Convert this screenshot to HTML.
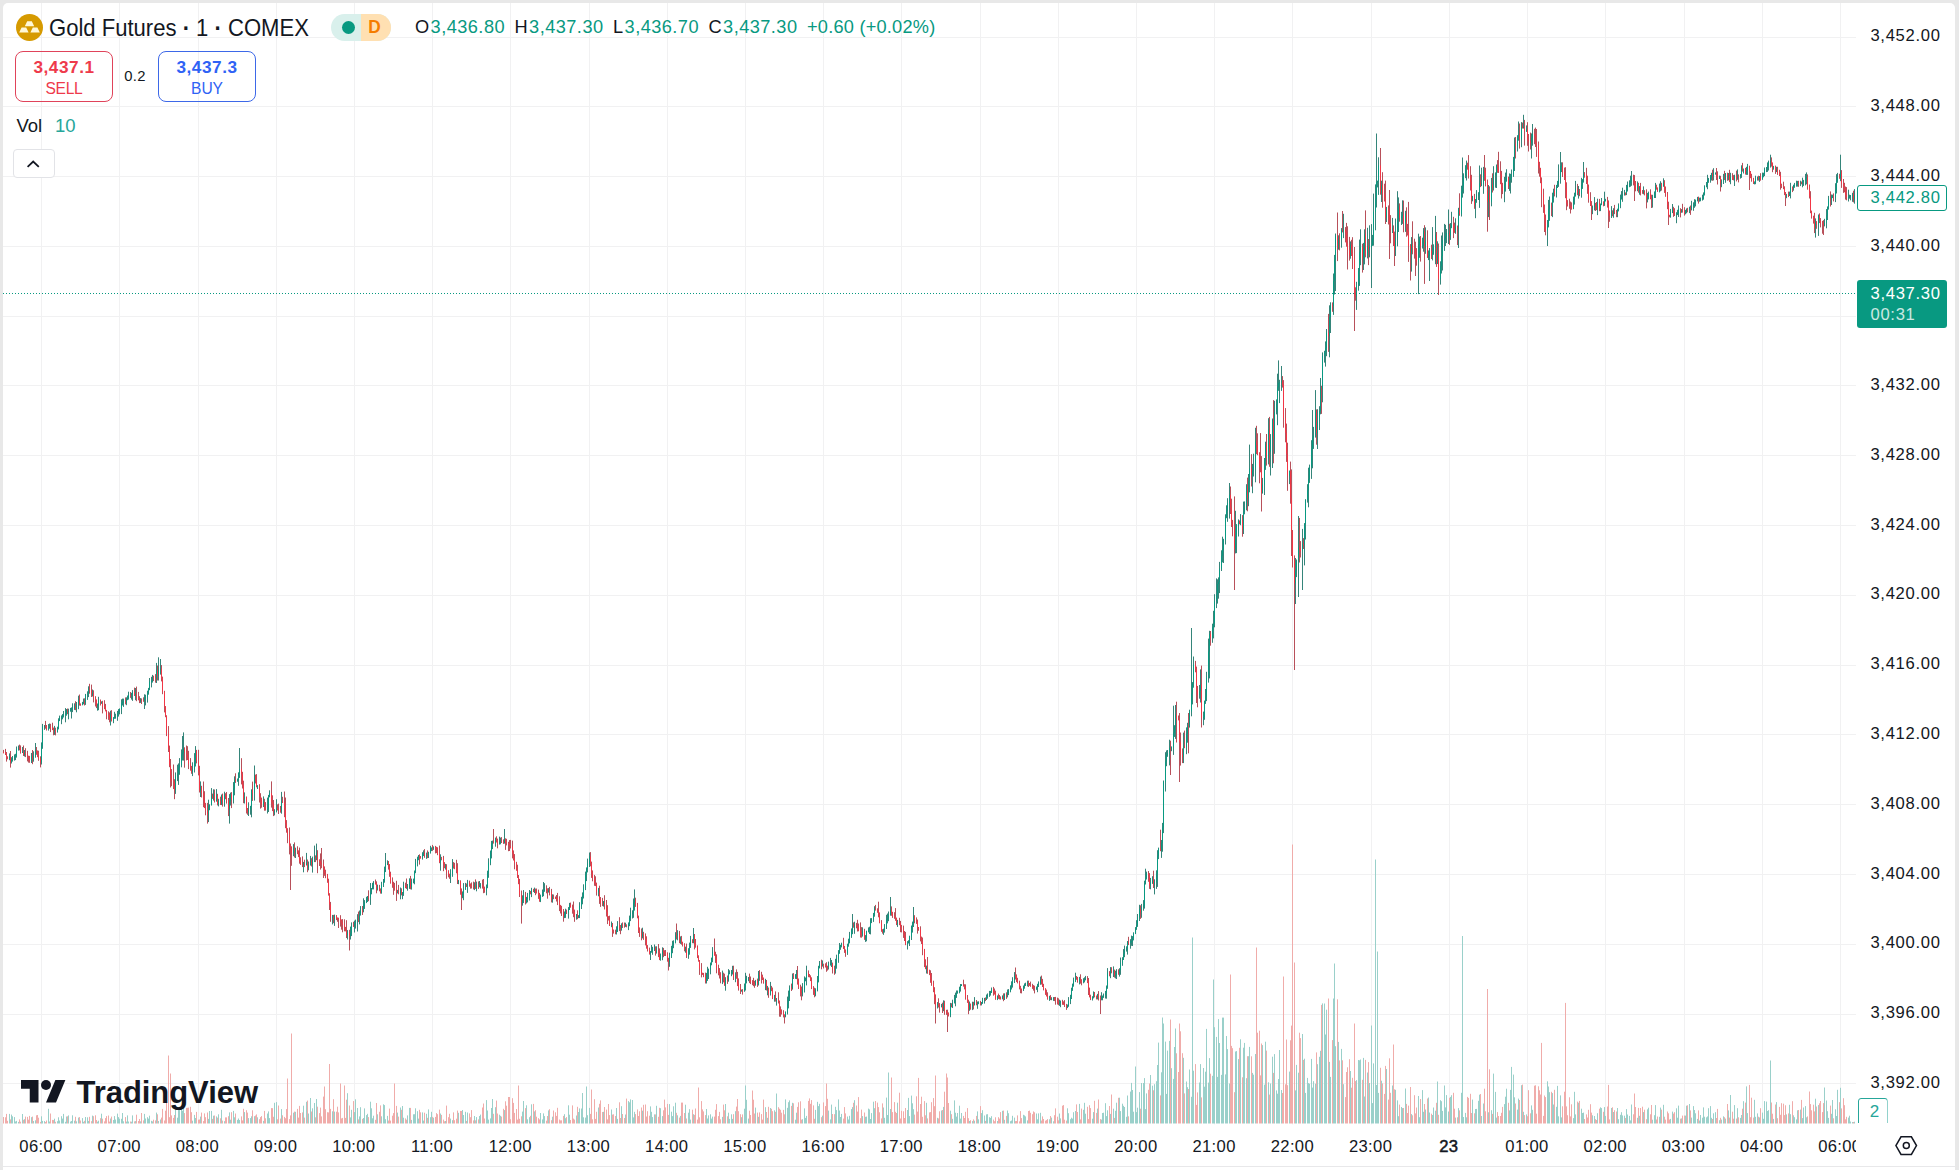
<!DOCTYPE html>
<html><head><meta charset="utf-8"><title>Gold Futures</title>
<style>
html,body{margin:0;padding:0;}
body{width:1959px;height:1170px;background:#e8e8e8;position:relative;overflow:hidden;font-family:"Liberation Sans",sans-serif;color:#131722;}
#panel{position:absolute;left:3px;top:3px;width:1952px;height:1163px;background:#fff;border-radius:5px 5px 0 0;}
#below{position:absolute;left:3px;top:1166px;width:1952px;height:4px;background:#fff;border-top:1px solid #e8e8ea;box-sizing:border-box;}
#chart{position:absolute;left:0;top:0;}
#tclip{position:absolute;left:0;top:1128px;width:1856px;height:36px;overflow:hidden;}
.pl{position:absolute;left:1857.5px;width:96px;text-align:center;font-size:16.6px;line-height:22px;letter-spacing:0.7px;white-space:nowrap;}
.tl{position:absolute;top:8.1px;width:80px;text-align:center;font-size:16.6px;line-height:22px;letter-spacing:0.35px;white-space:nowrap;}
.abs{position:absolute;white-space:nowrap;}
</style></head><body>
<div id="panel"></div>
<div id="below"></div>
<svg id="chart" width="1959" height="1170" viewBox="0 0 1959 1170">
<g stroke="#f1f1f2" stroke-width="1" fill="none"><path d="M3 37.5H1856"/><path d="M3 106.5H1856"/><path d="M3 176.5H1856"/><path d="M3 246.5H1856"/><path d="M3 316.5H1856"/><path d="M3 385.5H1856"/><path d="M3 455.5H1856"/><path d="M3 525.5H1856"/><path d="M3 595.5H1856"/><path d="M3 665.5H1856"/><path d="M3 734.5H1856"/><path d="M3 804.5H1856"/><path d="M3 874.5H1856"/><path d="M3 944.5H1856"/><path d="M3 1014.5H1856"/><path d="M3 1083.5H1856"/><path d="M41.5 3V1124.5"/><path d="M119.5 3V1124.5"/><path d="M198.5 3V1124.5"/><path d="M276.5 3V1124.5"/><path d="M354.5 3V1124.5"/><path d="M432.5 3V1124.5"/><path d="M510.5 3V1124.5"/><path d="M589.5 3V1124.5"/><path d="M667.5 3V1124.5"/><path d="M745.5 3V1124.5"/><path d="M823.5 3V1124.5"/><path d="M901.5 3V1124.5"/><path d="M980.5 3V1124.5"/><path d="M1058.5 3V1124.5"/><path d="M1136.5 3V1124.5"/><path d="M1214.5 3V1124.5"/><path d="M1292.5 3V1124.5"/><path d="M1371.5 3V1124.5"/><path d="M1449.5 3V1124.5"/><path d="M1527.5 3V1124.5"/><path d="M1605.5 3V1124.5"/><path d="M1684.5 3V1124.5"/><path d="M1762.5 3V1124.5"/><path d="M1840.5 3V1124.5"/></g>
<clipPath id="cp"><rect x="3" y="3" width="1853" height="1121.5"/></clipPath>
<g clip-path="url(#cp)">
<path d="M9.5 1113.9V1123.5M11.5 1114.6V1123.5M12.5 1116.3V1123.5M14.5 1117.1V1123.5M15.5 1121.5V1123.5M16.5 1120.9V1123.5M18.5 1121.9V1123.5M22.5 1114V1123.5M24.5 1119.2V1123.5M31.5 1117.2V1123.5M33.5 1121V1123.5M35.5 1120.3V1123.5M41.5 1116.3V1123.5M42.5 1120.9V1123.5M44.5 1121.1V1123.5M48.5 1108.8V1123.5M49.5 1121.5V1123.5M54.5 1118.7V1123.5M57.5 1121.2V1123.5M58.5 1117.3V1123.5M59.5 1120.5V1123.5M61.5 1116.2V1123.5M62.5 1118.6V1123.5M63.5 1113.9V1123.5M65.5 1121.8V1123.5M66.5 1116.5V1123.5M68.5 1115.4V1123.5M70.5 1121.6V1123.5M71.5 1121V1123.5M72.5 1115.3V1123.5M74.5 1120.7V1123.5M76.5 1121.3V1123.5M78.5 1117.6V1123.5M82.5 1118.1V1123.5M83.5 1121.8V1123.5M85.5 1117V1123.5M87.5 1117.3V1123.5M88.5 1120.9V1123.5M92.5 1115.6V1123.5M97.5 1121.7V1123.5M98.5 1120.7V1123.5M101.5 1113.7V1123.5M110.5 1118.5V1123.5M113.5 1120V1123.5M114.5 1116.1V1123.5M115.5 1119.5V1123.5M117.5 1113.6V1123.5M118.5 1117.1V1123.5M119.5 1118.7V1123.5M121.5 1118.8V1123.5M122.5 1113V1123.5M123.5 1121.3V1123.5M126.5 1121.6V1123.5M127.5 1115.4V1123.5M128.5 1121.5V1123.5M131.5 1121.7V1123.5M132.5 1115.4V1123.5M135.5 1121.1V1123.5M140.5 1121.3V1123.5M144.5 1113.9V1123.5M145.5 1118.5V1123.5M147.5 1117.2V1123.5M148.5 1118.6V1123.5M149.5 1115.7V1123.5M151.5 1120.8V1123.5M152.5 1121.4V1123.5M156.5 1112.6V1123.5M158.5 1121V1123.5M160.5 1119.5V1123.5M175.5 1105.2V1123.5M177.5 1117.7V1123.5M178.5 1107.3V1123.5M179.5 1109.1V1123.5M181.5 1107.3V1123.5M182.5 1110.7V1123.5M183.5 1107V1123.5M192.5 1120.7V1123.5M194.5 1114.9V1123.5M195.5 1118V1123.5M200.5 1116.6V1123.5M208.5 1118.9V1123.5M209.5 1111V1123.5M211.5 1110.9V1123.5M213.5 1115.7V1123.5M216.5 1116.4V1123.5M218.5 1114.3V1123.5M221.5 1109.8V1123.5M224.5 1121.2V1123.5M229.5 1112.4V1123.5M230.5 1119.7V1123.5M233.5 1110.9V1123.5M234.5 1117.3V1123.5M237.5 1119.9V1123.5M238.5 1118.5V1123.5M239.5 1120V1123.5M244.5 1112.1V1123.5M248.5 1118.1V1123.5M250.5 1118.1V1123.5M251.5 1116.3V1123.5M254.5 1116.2V1123.5M257.5 1117.3V1123.5M263.5 1120.9V1123.5M267.5 1113.5V1123.5M268.5 1111.4V1123.5M269.5 1118.1V1123.5M274.5 1102.8V1123.5M276.5 1102.1V1123.5M281.5 1109.1V1123.5M293.5 1112.7V1123.5M295.5 1111.8V1123.5M303.5 1105.7V1123.5M306.5 1101.8V1123.5M308.5 1113.5V1123.5M310.5 1098V1123.5M312.5 1108.3V1123.5M314.5 1103V1123.5M316.5 1099V1123.5M332.5 1111.3V1123.5M334.5 1111.6V1123.5M347.5 1093.2V1123.5M350.5 1117.4V1123.5M351.5 1109.8V1123.5M354.5 1112.1V1123.5M355.5 1099.3V1123.5M357.5 1108V1123.5M359.5 1116.4V1123.5M360.5 1107.2V1123.5M363.5 1118V1123.5M364.5 1108.4V1123.5M366.5 1115.1V1123.5M367.5 1113.8V1123.5M370.5 1101.7V1123.5M371.5 1108.3V1123.5M372.5 1118.3V1123.5M373.5 1115.7V1123.5M377.5 1114.3V1123.5M381.5 1116.3V1123.5M383.5 1104.3V1123.5M384.5 1105.1V1123.5M385.5 1119.2V1123.5M387.5 1115.9V1123.5M397.5 1112.6V1123.5M400.5 1107.5V1123.5M402.5 1106V1123.5M403.5 1117.7V1123.5M407.5 1115.4V1123.5M409.5 1107.9V1123.5M411.5 1119.9V1123.5M413.5 1114.3V1123.5M414.5 1114.2V1123.5M415.5 1108.3V1123.5M417.5 1111.2V1123.5M418.5 1118.6V1123.5M422.5 1112.4V1123.5M423.5 1120.6V1123.5M426.5 1113.8V1123.5M428.5 1109.4V1123.5M430.5 1117.2V1123.5M431.5 1111.8V1123.5M433.5 1117.7V1123.5M440.5 1113.5V1123.5M445.5 1121V1123.5M450.5 1118.6V1123.5M452.5 1120.2V1123.5M458.5 1112.8V1123.5M462.5 1110V1123.5M463.5 1115V1123.5M465.5 1111.8V1123.5M467.5 1112.5V1123.5M474.5 1116V1123.5M476.5 1117.1V1123.5M479.5 1116V1123.5M480.5 1114.6V1123.5M486.5 1100.1V1123.5M487.5 1110.5V1123.5M488.5 1119.6V1123.5M490.5 1118.4V1123.5M491.5 1108V1123.5M492.5 1099V1123.5M495.5 1107.2V1123.5M499.5 1114.7V1123.5M500.5 1115.8V1123.5M504.5 1110.1V1123.5M522.5 1111.6V1123.5M523.5 1101V1123.5M526.5 1105.3V1123.5M527.5 1119.3V1123.5M529.5 1117.2V1123.5M531.5 1104.3V1123.5M534.5 1111.4V1123.5M540.5 1113V1123.5M542.5 1119.4V1123.5M543.5 1113.4V1123.5M544.5 1116.1V1123.5M548.5 1110.4V1123.5M552.5 1116.7V1123.5M564.5 1114.2V1123.5M565.5 1118.2V1123.5M568.5 1105.3V1123.5M569.5 1114.7V1123.5M576.5 1115.5V1123.5M578.5 1112V1123.5M579.5 1108.4V1123.5M581.5 1108.5V1123.5M582.5 1093V1123.5M583.5 1117.3V1123.5M585.5 1117.6V1123.5M586.5 1086.5V1123.5M587.5 1115.2V1123.5M589.5 1107.9V1123.5M598.5 1107.5V1123.5M603.5 1111.8V1123.5M611.5 1109.5V1123.5M616.5 1108V1123.5M617.5 1118.9V1123.5M621.5 1106.2V1123.5M625.5 1114.5V1123.5M628.5 1101.1V1123.5M629.5 1102.3V1123.5M630.5 1099.4V1123.5M632.5 1100V1123.5M633.5 1117.4V1123.5M634.5 1111.8V1123.5M642.5 1110.7V1123.5M650.5 1106.4V1123.5M651.5 1111.8V1123.5M652.5 1117.1V1123.5M654.5 1114.4V1123.5M656.5 1105.8V1123.5M660.5 1108.2V1123.5M662.5 1116.1V1123.5M669.5 1104.1V1123.5M671.5 1111.7V1123.5M672.5 1116.1V1123.5M673.5 1106.3V1123.5M675.5 1102.7V1123.5M677.5 1115.3V1123.5M680.5 1115.9V1123.5M685.5 1104.7V1123.5M688.5 1112.7V1123.5M689.5 1109.2V1123.5M690.5 1119.6V1123.5M693.5 1114.2V1123.5M706.5 1109V1123.5M707.5 1118.5V1123.5M708.5 1115.4V1123.5M710.5 1114.3V1123.5M711.5 1118.6V1123.5M712.5 1116.6V1123.5M722.5 1116.9V1123.5M725.5 1104V1123.5M728.5 1112.7V1123.5M729.5 1118.9V1123.5M731.5 1114.3V1123.5M732.5 1118.9V1123.5M735.5 1111.2V1123.5M741.5 1117.2V1123.5M744.5 1108.7V1123.5M745.5 1085.5V1123.5M746.5 1099.8V1123.5M748.5 1118.6V1123.5M755.5 1107.6V1123.5M758.5 1116.8V1123.5M765.5 1107.2V1123.5M767.5 1117.8V1123.5M770.5 1108V1123.5M774.5 1110.3V1123.5M776.5 1093.5V1123.5M785.5 1099.4V1123.5M787.5 1107.8V1123.5M788.5 1102.2V1123.5M789.5 1100.4V1123.5M792.5 1102.8V1123.5M795.5 1119.7V1123.5M796.5 1112.7V1123.5M802.5 1119.2V1123.5M804.5 1108.4V1123.5M805.5 1117.9V1123.5M806.5 1115.9V1123.5M815.5 1109.9V1123.5M817.5 1101.8V1123.5M818.5 1106.1V1123.5M819.5 1103.8V1123.5M822.5 1115.6V1123.5M828.5 1110.6V1123.5M830.5 1119.4V1123.5M831.5 1104.6V1123.5M835.5 1106.8V1123.5M836.5 1110.1V1123.5M838.5 1099.4V1123.5M839.5 1110.5V1123.5M840.5 1117V1123.5M841.5 1113.9V1123.5M847.5 1116.5V1123.5M848.5 1119.5V1123.5M849.5 1115.8V1123.5M851.5 1109.1V1123.5M852.5 1107.1V1123.5M854.5 1100.2V1123.5M862.5 1116.1V1123.5M865.5 1116.8V1123.5M866.5 1116.6V1123.5M868.5 1108.6V1123.5M869.5 1109.4V1123.5M870.5 1119V1123.5M871.5 1113.1V1123.5M873.5 1101.7V1123.5M874.5 1108.2V1123.5M883.5 1107.5V1123.5M884.5 1117.8V1123.5M886.5 1097.6V1123.5M887.5 1115V1123.5M888.5 1072.5V1123.5M890.5 1109V1123.5M897.5 1102.7V1123.5M907.5 1110V1123.5M908.5 1097.9V1123.5M909.5 1116.1V1123.5M911.5 1095.6V1123.5M912.5 1103.3V1123.5M913.5 1109.2V1123.5M926.5 1102.8V1123.5M937.5 1117.8V1123.5M941.5 1110.5V1123.5M943.5 1106.9V1123.5M950.5 1110.7V1123.5M952.5 1118.8V1123.5M954.5 1100.4V1123.5M955.5 1112.7V1123.5M956.5 1116.6V1123.5M957.5 1113V1123.5M959.5 1105.7V1123.5M960.5 1118.6V1123.5M961.5 1113V1123.5M969.5 1121V1123.5M972.5 1121.1V1123.5M974.5 1120.7V1123.5M977.5 1111.4V1123.5M978.5 1119.3V1123.5M981.5 1113.1V1123.5M982.5 1110.2V1123.5M984.5 1115.5V1123.5M986.5 1114.4V1123.5M987.5 1114.2V1123.5M989.5 1117.2V1123.5M990.5 1117.9V1123.5M991.5 1116.2V1123.5M997.5 1121V1123.5M1002.5 1110.8V1123.5M1004.5 1119.8V1123.5M1007.5 1110.5V1123.5M1008.5 1113.2V1123.5M1010.5 1121.2V1123.5M1011.5 1120.5V1123.5M1012.5 1115.8V1123.5M1014.5 1117.6V1123.5M1023.5 1114.8V1123.5M1024.5 1115.4V1123.5M1025.5 1116.4V1123.5M1027.5 1120.4V1123.5M1036.5 1113.5V1123.5M1037.5 1119.3V1123.5M1038.5 1113.4V1123.5M1040.5 1112.8V1123.5M1049.5 1119.3V1123.5M1051.5 1117.6V1123.5M1053.5 1121.3V1123.5M1059.5 1113.5V1123.5M1060.5 1118.4V1123.5M1067.5 1108.3V1123.5M1068.5 1113.2V1123.5M1070.5 1119.2V1123.5M1071.5 1117.7V1123.5M1072.5 1118.6V1123.5M1073.5 1112.2V1123.5M1075.5 1111V1123.5M1079.5 1103.9V1123.5M1083.5 1109.8V1123.5M1084.5 1102.8V1123.5M1085.5 1113.7V1123.5M1092.5 1118.7V1123.5M1093.5 1112.1V1123.5M1097.5 1108.6V1123.5M1101.5 1119.6V1123.5M1102.5 1113V1123.5M1103.5 1112.7V1123.5M1105.5 1103.2V1123.5M1106.5 1116.1V1123.5M1107.5 1110.3V1123.5M1110.5 1113.9V1123.5M1113.5 1108.7V1123.5M1115.5 1110.8V1123.5M1116.5 1102.7V1123.5M1119.5 1097.7V1123.5M1120.5 1111.1V1123.5M1122.5 1103.7V1123.5M1123.5 1105.8V1123.5M1124.5 1107V1123.5M1126.5 1116.8V1123.5M1127.5 1095.5V1123.5M1130.5 1091.6V1123.5M1131.5 1082.9V1123.5M1132.5 1090V1123.5M1133.5 1111.7V1123.5M1135.5 1066.5V1123.5M1136.5 1112.1V1123.5M1137.5 1107.7V1123.5M1139.5 1092.1V1123.5M1141.5 1083V1123.5M1143.5 1083V1123.5M1144.5 1078.1V1123.5M1145.5 1109.1V1123.5M1146.5 1093.4V1123.5M1150.5 1075V1123.5M1152.5 1085.7V1123.5M1154.5 1084.2V1123.5M1156.5 1081.2V1123.5M1157.5 1065V1123.5M1158.5 1042.6V1123.5M1161.5 1072.3V1123.5M1162.5 1017.5V1123.5M1163.5 1023.5V1123.5M1165.5 1041.6V1123.5M1166.5 1093.9V1123.5M1167.5 1050.6V1123.5M1169.5 1040.9V1123.5M1171.5 1068.2V1123.5M1173.5 1078.9V1123.5M1174.5 1047V1123.5M1175.5 1028.5V1123.5M1183.5 1057.8V1123.5M1186.5 1081.5V1123.5M1187.5 1087.2V1123.5M1189.5 1069.5V1123.5M1191.5 1096.8V1123.5M1192.5 937.5V1123.5M1193.5 1070.7V1123.5M1199.5 1082.5V1123.5M1200.5 1064.1V1123.5M1203.5 1068V1123.5M1204.5 1086.7V1123.5M1205.5 1071.7V1123.5M1206.5 1028.9V1123.5M1208.5 1082.6V1123.5M1209.5 1058.1V1123.5M1212.5 1075.8V1123.5M1213.5 979.5V1123.5M1214.5 1027.2V1123.5M1216.5 1036.9V1123.5M1217.5 1076.9V1123.5M1218.5 1019.1V1123.5M1219.5 1043V1123.5M1221.5 1074.9V1123.5M1222.5 1017.6V1123.5M1223.5 1017.6V1123.5M1225.5 1074.4V1123.5M1226.5 1036V1123.5M1227.5 1049.1V1123.5M1229.5 1083.5V1123.5M1235.5 1051.5V1123.5M1236.5 1051.1V1123.5M1238.5 1059.1V1123.5M1240.5 1039.3V1123.5M1243.5 1047.7V1123.5M1244.5 1042.9V1123.5M1246.5 1078.2V1123.5M1248.5 1056.2V1123.5M1249.5 1046.9V1123.5M1252.5 1072.9V1123.5M1253.5 1074.7V1123.5M1255.5 1054V1123.5M1262.5 1045.1V1123.5M1264.5 1084.7V1123.5M1265.5 1041.7V1123.5M1268.5 1082.3V1123.5M1270.5 1083.5V1123.5M1272.5 1056.7V1123.5M1274.5 1054.1V1123.5M1276.5 1090.4V1123.5M1277.5 1093.7V1123.5M1278.5 1079V1123.5M1279.5 1050V1123.5M1281.5 1090V1123.5M1289.5 1071.6V1123.5M1295.5 1090.4V1123.5M1296.5 1064.9V1123.5M1298.5 1072.7V1123.5M1302.5 1034V1123.5M1304.5 1058.7V1123.5M1305.5 1092.9V1123.5M1307.5 1077.9V1123.5M1308.5 1083.1V1123.5M1309.5 1083.7V1123.5M1311.5 1058.9V1123.5M1312.5 1087.6V1123.5M1313.5 1081.2V1123.5M1315.5 1083.7V1123.5M1317.5 1064.2V1123.5M1319.5 1056.8V1123.5M1320.5 1050.8V1123.5M1322.5 1003.4V1123.5M1324.5 1003.5V1123.5M1325.5 1034.5V1123.5M1326.5 1009.7V1123.5M1329.5 1061.9V1123.5M1330.5 1076.9V1123.5M1333.5 998.5V1123.5M1334.5 963.5V1123.5M1335.5 1046.2V1123.5M1338.5 1041.9V1123.5M1341.5 1048.9V1123.5M1343.5 1084.2V1123.5M1350.5 1071V1123.5M1356.5 1080.1V1123.5M1358.5 1060V1123.5M1359.5 1060.3V1123.5M1360.5 1059.5V1123.5M1363.5 1057.9V1123.5M1364.5 1096.5V1123.5M1367.5 1072.5V1123.5M1369.5 1083V1123.5M1371.5 1025.5V1123.5M1372.5 1103.1V1123.5M1373.5 1063.4V1123.5M1375.5 859.5V1123.5M1376.5 1085V1123.5M1377.5 951.5V1123.5M1378.5 1092.9V1123.5M1381.5 1080.7V1123.5M1386.5 1069V1123.5M1392.5 1085.5V1123.5M1395.5 1089.8V1123.5M1397.5 1100.4V1123.5M1398.5 1116.2V1123.5M1401.5 1107V1123.5M1402.5 1108.1V1123.5M1405.5 1088.5V1123.5M1411.5 1114.1V1123.5M1418.5 1096V1123.5M1419.5 1117.2V1123.5M1422.5 1090.1V1123.5M1423.5 1111.8V1123.5M1425.5 1109.5V1123.5M1428.5 1097.5V1123.5M1429.5 1112.5V1123.5M1432.5 1115V1123.5M1433.5 1107.5V1123.5M1435.5 1110.7V1123.5M1437.5 1081.5V1123.5M1440.5 1100.2V1123.5M1441.5 1101.2V1123.5M1442.5 1110.9V1123.5M1444.5 1085.5V1123.5M1445.5 1107.4V1123.5M1446.5 1095.1V1123.5M1448.5 1111.5V1123.5M1450.5 1096.9V1123.5M1451.5 1095.2V1123.5M1455.5 1117.6V1123.5M1458.5 1108.1V1123.5M1461.5 1092.8V1123.5M1462.5 936V1123.5M1463.5 1117V1123.5M1465.5 1112.9V1123.5M1466.5 1117.3V1123.5M1472.5 1099.6V1123.5M1475.5 1109V1123.5M1476.5 1108.9V1123.5M1478.5 1100.8V1123.5M1479.5 1094.7V1123.5M1481.5 1116V1123.5M1483.5 1103.5V1123.5M1488.5 1112.3V1123.5M1491.5 1110.2V1123.5M1493.5 1073.6V1123.5M1495.5 1091.9V1123.5M1496.5 1117.6V1123.5M1504.5 1104.1V1123.5M1505.5 1096.7V1123.5M1506.5 1088.7V1123.5M1509.5 1110.4V1123.5M1510.5 1089.9V1123.5M1511.5 1066.9V1123.5M1513.5 1074.6V1123.5M1514.5 1097.3V1123.5M1517.5 1109.6V1123.5M1518.5 1098.6V1123.5M1521.5 1085.2V1123.5M1523.5 1111.8V1123.5M1526.5 1114.4V1123.5M1531.5 1105.4V1123.5M1532.5 1109.8V1123.5M1547.5 1081.3V1123.5M1548.5 1086.5V1123.5M1549.5 1092.2V1123.5M1552.5 1093.1V1123.5M1553.5 1104.5V1123.5M1556.5 1106.8V1123.5M1557.5 1085.9V1123.5M1558.5 1116.3V1123.5M1560.5 1095.4V1123.5M1561.5 1117.4V1123.5M1573.5 1118.1V1123.5M1574.5 1091.8V1123.5M1575.5 1114.4V1123.5M1578.5 1102.7V1123.5M1581.5 1108.7V1123.5M1582.5 1113V1123.5M1583.5 1112.6V1123.5M1592.5 1115.3V1123.5M1594.5 1116V1123.5M1597.5 1113.2V1123.5M1600.5 1107.3V1123.5M1601.5 1108.1V1123.5M1604.5 1107.1V1123.5M1605.5 1115.9V1123.5M1611.5 1108V1123.5M1613.5 1112V1123.5M1617.5 1108V1123.5M1618.5 1119.2V1123.5M1620.5 1114.8V1123.5M1621.5 1112.2V1123.5M1622.5 1115.4V1123.5M1624.5 1115.7V1123.5M1626.5 1109.1V1123.5M1627.5 1114.5V1123.5M1629.5 1115.9V1123.5M1630.5 1120.4V1123.5M1631.5 1104.5V1123.5M1637.5 1117.8V1123.5M1639.5 1115.8V1123.5M1643.5 1112.1V1123.5M1647.5 1109.3V1123.5M1648.5 1107.7V1123.5M1652.5 1119.7V1123.5M1654.5 1115.2V1123.5M1655.5 1105.1V1123.5M1659.5 1116.8V1123.5M1660.5 1107.6V1123.5M1663.5 1104.8V1123.5M1670.5 1118.9V1123.5M1672.5 1111.6V1123.5M1676.5 1108.3V1123.5M1677.5 1117.7V1123.5M1678.5 1105.6V1123.5M1681.5 1118.4V1123.5M1685.5 1115.6V1123.5M1686.5 1105.7V1123.5M1689.5 1104V1123.5M1691.5 1117.6V1123.5M1693.5 1106.1V1123.5M1694.5 1110V1123.5M1695.5 1113.3V1123.5M1697.5 1118.9V1123.5M1699.5 1120.5V1123.5M1700.5 1115V1123.5M1702.5 1117.7V1123.5M1703.5 1107.4V1123.5M1704.5 1116.7V1123.5M1706.5 1117.3V1123.5M1707.5 1116.4V1123.5M1708.5 1108.2V1123.5M1710.5 1106.1V1123.5M1711.5 1117.8V1123.5M1713.5 1113.3V1123.5M1715.5 1112.2V1123.5M1719.5 1120.2V1123.5M1721.5 1119.6V1123.5M1723.5 1116.3V1123.5M1725.5 1118.6V1123.5M1728.5 1110.4V1123.5M1730.5 1095V1123.5M1734.5 1105.1V1123.5M1737.5 1108.2V1123.5M1740.5 1117.9V1123.5M1741.5 1115V1123.5M1743.5 1101.2V1123.5M1746.5 1086.4V1123.5M1747.5 1113.1V1123.5M1754.5 1099.8V1123.5M1755.5 1116.8V1123.5M1757.5 1113.4V1123.5M1759.5 1117.4V1123.5M1762.5 1112.6V1123.5M1763.5 1118.8V1123.5M1764.5 1101.1V1123.5M1766.5 1101.6V1123.5M1767.5 1111V1123.5M1768.5 1110.2V1123.5M1770.5 1060.5V1123.5M1773.5 1118.9V1123.5M1776.5 1102.1V1123.5M1786.5 1114.4V1123.5M1789.5 1104.8V1123.5M1790.5 1114.2V1123.5M1793.5 1115.3V1123.5M1794.5 1117.2V1123.5M1796.5 1119.4V1123.5M1797.5 1110.3V1123.5M1800.5 1109.6V1123.5M1802.5 1118.1V1123.5M1803.5 1107.5V1123.5M1805.5 1106.1V1123.5M1806.5 1117.3V1123.5M1815.5 1098.7V1123.5M1818.5 1105.1V1123.5M1824.5 1087.5V1123.5M1826.5 1100.5V1123.5M1827.5 1111.2V1123.5M1828.5 1117.9V1123.5M1831.5 1113.8V1123.5M1832.5 1100V1123.5M1835.5 1109.3V1123.5M1836.5 1116V1123.5M1837.5 1089.8V1123.5M1840.5 1087.8V1123.5M1848.5 1117.6V1123.5M1849.5 1115.7V1123.5M1850.5 1121.5V1123.5M1852.5 1122V1123.5M1854.5 1121.7V1123.5" stroke="#9ad0ca" stroke-width="1" fill="none"/>
<path d="M3.5 1117V1123.5M5.5 1117.3V1123.5M6.5 1113.9V1123.5M7.5 1120.8V1123.5M10.5 1119.4V1123.5M19.5 1119.4V1123.5M20.5 1121.7V1123.5M23.5 1119.8V1123.5M25.5 1116.6V1123.5M27.5 1116.9V1123.5M28.5 1119.7V1123.5M29.5 1115.9V1123.5M32.5 1116.6V1123.5M36.5 1115.3V1123.5M37.5 1115V1123.5M38.5 1117.7V1123.5M40.5 1121.9V1123.5M45.5 1122V1123.5M46.5 1120.5V1123.5M50.5 1113.5V1123.5M52.5 1119.9V1123.5M53.5 1120.1V1123.5M55.5 1121.8V1123.5M67.5 1116.3V1123.5M75.5 1116.8V1123.5M79.5 1117.1V1123.5M80.5 1120.5V1123.5M84.5 1120.8V1123.5M89.5 1116.8V1123.5M91.5 1121.2V1123.5M93.5 1116.2V1123.5M95.5 1115.3V1123.5M96.5 1120V1123.5M100.5 1118.2V1123.5M102.5 1118.7V1123.5M104.5 1121.4V1123.5M105.5 1118.1V1123.5M106.5 1116.1V1123.5M108.5 1115.5V1123.5M109.5 1121.6V1123.5M111.5 1116.6V1123.5M125.5 1117.1V1123.5M130.5 1121.5V1123.5M134.5 1121.4V1123.5M136.5 1114.7V1123.5M138.5 1121V1123.5M139.5 1119V1123.5M141.5 1113V1123.5M143.5 1120.4V1123.5M153.5 1119.7V1123.5M155.5 1120.4V1123.5M157.5 1114.3V1123.5M161.5 1117.6V1123.5M162.5 1108.9V1123.5M164.5 1120.5V1123.5M165.5 1110.7V1123.5M166.5 1102.9V1123.5M168.5 1055.5V1123.5M169.5 1117.2V1123.5M170.5 1073.5V1123.5M171.5 1115.4V1123.5M173.5 1117.9V1123.5M174.5 1115V1123.5M184.5 1113.1V1123.5M186.5 1107.9V1123.5M187.5 1107.8V1123.5M188.5 1107.6V1123.5M190.5 1106.8V1123.5M191.5 1112.2V1123.5M196.5 1111.9V1123.5M198.5 1119.7V1123.5M199.5 1119.5V1123.5M201.5 1112.6V1123.5M203.5 1121.1V1123.5M204.5 1113.4V1123.5M205.5 1117.2V1123.5M207.5 1112.5V1123.5M212.5 1118.9V1123.5M214.5 1115.5V1123.5M217.5 1117.6V1123.5M220.5 1118.3V1123.5M222.5 1120.6V1123.5M225.5 1117.4V1123.5M226.5 1117.4V1123.5M228.5 1116.2V1123.5M231.5 1112.2V1123.5M235.5 1113.5V1123.5M241.5 1116.4V1123.5M242.5 1120.4V1123.5M243.5 1108.8V1123.5M246.5 1110.2V1123.5M247.5 1112.6V1123.5M252.5 1110.3V1123.5M255.5 1115.5V1123.5M256.5 1114.4V1123.5M259.5 1119.2V1123.5M260.5 1117.1V1123.5M261.5 1116.1V1123.5M264.5 1110.9V1123.5M265.5 1118.3V1123.5M271.5 1108.1V1123.5M272.5 1108.2V1123.5M273.5 1116.8V1123.5M277.5 1119.3V1123.5M278.5 1105.5V1123.5M280.5 1118.6V1123.5M282.5 1115.3V1123.5M284.5 1116.9V1123.5M285.5 1118.2V1123.5M286.5 1109.1V1123.5M287.5 1078.5V1123.5M289.5 1119.1V1123.5M290.5 1115.4V1123.5M291.5 1033.5V1123.5M294.5 1111.6V1123.5M297.5 1108.9V1123.5M298.5 1117.6V1123.5M299.5 1105.9V1123.5M300.5 1113V1123.5M302.5 1112.4V1123.5M304.5 1117.6V1123.5M307.5 1100.6V1123.5M311.5 1111.5V1123.5M315.5 1117.3V1123.5M317.5 1106.7V1123.5M319.5 1113.1V1123.5M320.5 1107.6V1123.5M321.5 1116.4V1123.5M323.5 1096.6V1123.5M324.5 1086.5V1123.5M325.5 1109.2V1123.5M327.5 1112.2V1123.5M328.5 1112.4V1123.5M329.5 1064V1123.5M330.5 1108.9V1123.5M333.5 1099.2V1123.5M336.5 1111.7V1123.5M337.5 1106.7V1123.5M338.5 1112.4V1123.5M340.5 1083.5V1123.5M341.5 1118.4V1123.5M342.5 1117.9V1123.5M344.5 1085.5V1123.5M345.5 1117.9V1123.5M346.5 1099.7V1123.5M349.5 1105.5V1123.5M353.5 1101.1V1123.5M358.5 1119.4V1123.5M362.5 1118.9V1123.5M368.5 1117.1V1123.5M375.5 1119.8V1123.5M376.5 1103V1123.5M379.5 1111.8V1123.5M380.5 1105.4V1123.5M388.5 1120.5V1123.5M389.5 1108.6V1123.5M390.5 1120.6V1123.5M392.5 1115.7V1123.5M393.5 1113.1V1123.5M394.5 1083.5V1123.5M396.5 1105.9V1123.5M398.5 1116.6V1123.5M401.5 1109.8V1123.5M405.5 1118.4V1123.5M406.5 1119.7V1123.5M410.5 1107.9V1123.5M419.5 1109.8V1123.5M420.5 1112.3V1123.5M424.5 1112.7V1123.5M427.5 1117.8V1123.5M432.5 1116.9V1123.5M435.5 1116.9V1123.5M436.5 1113.1V1123.5M437.5 1114.2V1123.5M439.5 1109.6V1123.5M441.5 1114.9V1123.5M443.5 1119.6V1123.5M444.5 1121.3V1123.5M446.5 1105.6V1123.5M448.5 1117.2V1123.5M449.5 1113.8V1123.5M453.5 1112.4V1123.5M454.5 1120.2V1123.5M456.5 1118.7V1123.5M457.5 1110.6V1123.5M460.5 1110.9V1123.5M461.5 1111V1123.5M466.5 1120.9V1123.5M469.5 1113.4V1123.5M470.5 1117.2V1123.5M471.5 1110.1V1123.5M473.5 1120.4V1123.5M475.5 1120.3V1123.5M478.5 1119.4V1123.5M482.5 1107.5V1123.5M483.5 1103.5V1123.5M484.5 1118.5V1123.5M493.5 1113.8V1123.5M496.5 1100.6V1123.5M497.5 1113.5V1123.5M501.5 1116.6V1123.5M503.5 1108.8V1123.5M505.5 1101.3V1123.5M506.5 1105.7V1123.5M508.5 1097V1123.5M509.5 1097V1123.5M510.5 1119.2V1123.5M512.5 1098.2V1123.5M513.5 1102.9V1123.5M514.5 1112.9V1123.5M516.5 1109V1123.5M517.5 1119.6V1123.5M518.5 1085.5V1123.5M519.5 1118.8V1123.5M521.5 1116.3V1123.5M525.5 1108.1V1123.5M530.5 1115.8V1123.5M533.5 1103.9V1123.5M535.5 1110.2V1123.5M536.5 1116.7V1123.5M538.5 1118.2V1123.5M539.5 1119.4V1123.5M546.5 1120.7V1123.5M547.5 1116V1123.5M549.5 1109.2V1123.5M551.5 1120.2V1123.5M553.5 1110.5V1123.5M555.5 1112.3V1123.5M556.5 1115.9V1123.5M557.5 1107.8V1123.5M559.5 1119.5V1123.5M560.5 1120.4V1123.5M561.5 1120.3V1123.5M563.5 1115.9V1123.5M566.5 1117.1V1123.5M570.5 1120V1123.5M572.5 1105.4V1123.5M573.5 1118.6V1123.5M574.5 1119.6V1123.5M577.5 1106.8V1123.5M590.5 1113.9V1123.5M591.5 1089.5V1123.5M592.5 1119.3V1123.5M594.5 1099.2V1123.5M595.5 1118.9V1123.5M596.5 1111.8V1123.5M599.5 1103.8V1123.5M600.5 1100.4V1123.5M602.5 1112V1123.5M604.5 1107V1123.5M606.5 1109.6V1123.5M607.5 1119.4V1123.5M608.5 1104V1123.5M609.5 1115.1V1123.5M612.5 1114.6V1123.5M613.5 1114.3V1123.5M615.5 1116V1123.5M619.5 1102.3V1123.5M620.5 1118V1123.5M622.5 1114V1123.5M624.5 1118V1123.5M626.5 1098.6V1123.5M635.5 1114.1V1123.5M637.5 1109.4V1123.5M638.5 1116V1123.5M639.5 1111.3V1123.5M641.5 1107.5V1123.5M643.5 1104.8V1123.5M645.5 1104.5V1123.5M646.5 1116.5V1123.5M647.5 1111.2V1123.5M649.5 1115.7V1123.5M655.5 1114.4V1123.5M658.5 1116.8V1123.5M659.5 1107.8V1123.5M663.5 1110.3V1123.5M664.5 1099.6V1123.5M665.5 1107.4V1123.5M667.5 1103.9V1123.5M668.5 1114.9V1123.5M676.5 1112.8V1123.5M679.5 1117.6V1123.5M681.5 1102.6V1123.5M682.5 1102.6V1123.5M684.5 1113V1123.5M686.5 1118.5V1123.5M692.5 1109.7V1123.5M694.5 1114.9V1123.5M695.5 1108.5V1123.5M697.5 1119.6V1123.5M698.5 1087.5V1123.5M699.5 1117.3V1123.5M701.5 1101.1V1123.5M702.5 1109.4V1123.5M703.5 1111.4V1123.5M705.5 1115.1V1123.5M714.5 1116.6V1123.5M715.5 1109.8V1123.5M716.5 1104.1V1123.5M718.5 1116.1V1123.5M719.5 1111.9V1123.5M720.5 1119.3V1123.5M723.5 1104.6V1123.5M724.5 1110.3V1123.5M727.5 1116.3V1123.5M733.5 1114.2V1123.5M736.5 1106.6V1123.5M737.5 1099V1123.5M738.5 1111.2V1123.5M740.5 1114.2V1123.5M742.5 1114.4V1123.5M749.5 1110.7V1123.5M750.5 1115V1123.5M752.5 1090.5V1123.5M753.5 1099.7V1123.5M754.5 1113.5V1123.5M757.5 1112.6V1123.5M759.5 1112.4V1123.5M761.5 1114.1V1123.5M762.5 1119.6V1123.5M763.5 1099.6V1123.5M766.5 1112V1123.5M768.5 1106.8V1123.5M771.5 1108.8V1123.5M772.5 1111.2V1123.5M775.5 1111.8V1123.5M778.5 1107.2V1123.5M779.5 1108.7V1123.5M780.5 1109.8V1123.5M781.5 1112.7V1123.5M783.5 1109.9V1123.5M784.5 1114.3V1123.5M791.5 1105.9V1123.5M793.5 1103.3V1123.5M797.5 1106.9V1123.5M798.5 1102.3V1123.5M800.5 1101.3V1123.5M801.5 1119.6V1123.5M808.5 1100.9V1123.5M809.5 1098.4V1123.5M810.5 1103.8V1123.5M811.5 1100.1V1123.5M813.5 1105.4V1123.5M814.5 1118.8V1123.5M821.5 1117.2V1123.5M823.5 1102.4V1123.5M825.5 1106.1V1123.5M826.5 1083.5V1123.5M827.5 1098.8V1123.5M832.5 1114V1123.5M834.5 1114.2V1123.5M843.5 1118.6V1123.5M844.5 1107.1V1123.5M845.5 1113.4V1123.5M853.5 1102.8V1123.5M856.5 1105.5V1123.5M857.5 1111.6V1123.5M858.5 1097.1V1123.5M860.5 1118.2V1123.5M861.5 1109.6V1123.5M864.5 1112.5V1123.5M875.5 1101V1123.5M877.5 1102.6V1123.5M878.5 1107.1V1123.5M879.5 1112.3V1123.5M881.5 1118.4V1123.5M882.5 1103.4V1123.5M891.5 1077.5V1123.5M892.5 1112.1V1123.5M894.5 1102.1V1123.5M895.5 1111.8V1123.5M896.5 1113V1123.5M899.5 1092.7V1123.5M900.5 1118.5V1123.5M901.5 1110.8V1123.5M903.5 1111.3V1123.5M904.5 1118V1123.5M905.5 1108V1123.5M914.5 1114.6V1123.5M916.5 1096.3V1123.5M917.5 1111.6V1123.5M918.5 1077.9V1123.5M920.5 1104V1123.5M921.5 1096.7V1123.5M922.5 1116.8V1123.5M924.5 1101.1V1123.5M925.5 1115.3V1123.5M927.5 1118.4V1123.5M929.5 1112.4V1123.5M930.5 1112.1V1123.5M931.5 1102.2V1123.5M933.5 1098.1V1123.5M934.5 1106.2V1123.5M935.5 1075.5V1123.5M938.5 1118.4V1123.5M939.5 1111.3V1123.5M942.5 1110V1123.5M944.5 1091.7V1123.5M946.5 1073.5V1123.5M947.5 1077.5V1123.5M948.5 1103V1123.5M951.5 1114.2V1123.5M963.5 1115.9V1123.5M964.5 1118V1123.5M965.5 1111.8V1123.5M967.5 1108.1V1123.5M968.5 1118.2V1123.5M970.5 1120.2V1123.5M973.5 1119.4V1123.5M976.5 1115.9V1123.5M980.5 1106.1V1123.5M985.5 1120.9V1123.5M993.5 1119.6V1123.5M994.5 1121.2V1123.5M995.5 1117.3V1123.5M998.5 1117.2V1123.5M999.5 1118.6V1123.5M1000.5 1112.1V1123.5M1003.5 1110.6V1123.5M1006.5 1115.9V1123.5M1015.5 1121.1V1123.5M1016.5 1121V1123.5M1017.5 1115.4V1123.5M1019.5 1121.4V1123.5M1020.5 1111.1V1123.5M1021.5 1118.1V1123.5M1028.5 1111V1123.5M1029.5 1110.6V1123.5M1030.5 1112.8V1123.5M1032.5 1114.2V1123.5M1033.5 1111.4V1123.5M1034.5 1112.3V1123.5M1041.5 1120.5V1123.5M1042.5 1116.4V1123.5M1043.5 1119V1123.5M1045.5 1120.7V1123.5M1046.5 1120.1V1123.5M1047.5 1119.1V1123.5M1050.5 1116V1123.5M1054.5 1115.2V1123.5M1055.5 1108.4V1123.5M1057.5 1116.7V1123.5M1058.5 1120.3V1123.5M1062.5 1105.7V1123.5M1063.5 1105.1V1123.5M1064.5 1119.7V1123.5M1066.5 1120.6V1123.5M1076.5 1104.4V1123.5M1077.5 1112V1123.5M1080.5 1119.4V1123.5M1081.5 1108.6V1123.5M1087.5 1106.8V1123.5M1088.5 1119.1V1123.5M1089.5 1105.2V1123.5M1090.5 1108.1V1123.5M1094.5 1100.8V1123.5M1096.5 1112.9V1123.5M1098.5 1099.5V1123.5M1100.5 1119.1V1123.5M1109.5 1106V1123.5M1111.5 1094.5V1123.5M1114.5 1117.9V1123.5M1118.5 1097.8V1123.5M1128.5 1116.3V1123.5M1140.5 1108.7V1123.5M1148.5 1089.8V1123.5M1149.5 1083.5V1123.5M1153.5 1090.3V1123.5M1160.5 1095.4V1123.5M1170.5 1019.5V1123.5M1176.5 1053.3V1123.5M1178.5 1072V1123.5M1179.5 1023.5V1123.5M1180.5 1031.3V1123.5M1182.5 1053.2V1123.5M1184.5 1093.4V1123.5M1188.5 1089V1123.5M1195.5 1064.1V1123.5M1196.5 1104.9V1123.5M1197.5 1092.4V1123.5M1201.5 1097.4V1123.5M1210.5 1073.7V1123.5M1230.5 974.5V1123.5M1231.5 1045.9V1123.5M1232.5 1048.2V1123.5M1234.5 1092.2V1123.5M1239.5 1047.8V1123.5M1242.5 1077.3V1123.5M1247.5 1056.2V1123.5M1251.5 1056.3V1123.5M1256.5 947.5V1123.5M1257.5 1032.7V1123.5M1259.5 1030.7V1123.5M1260.5 1075.4V1123.5M1261.5 1043.5V1123.5M1266.5 1050.6V1123.5M1269.5 1094.6V1123.5M1273.5 1072.9V1123.5M1282.5 1093V1123.5M1283.5 976.5V1123.5M1285.5 1084.3V1123.5M1286.5 1039.5V1123.5M1287.5 1085.2V1123.5M1290.5 1040.3V1123.5M1291.5 1025.6V1123.5M1292.5 844.5V1123.5M1294.5 962.5V1123.5M1299.5 1032.7V1123.5M1300.5 1038.1V1123.5M1303.5 1059.9V1123.5M1316.5 1052.4V1123.5M1321.5 1004.9V1123.5M1328.5 998.5V1123.5M1332.5 1040.1V1123.5M1337.5 999.3V1123.5M1339.5 1060.4V1123.5M1342.5 1060.3V1123.5M1345.5 1097.1V1123.5M1346.5 1072V1123.5M1347.5 1067.3V1123.5M1349.5 1059.2V1123.5M1351.5 1087.7V1123.5M1352.5 1077.8V1123.5M1354.5 1023.5V1123.5M1355.5 1081.1V1123.5M1362.5 1079.8V1123.5M1365.5 1059.9V1123.5M1368.5 1062.1V1123.5M1380.5 1067.8V1123.5M1382.5 1083.4V1123.5M1384.5 1093.9V1123.5M1385.5 1065.9V1123.5M1388.5 1099.6V1123.5M1389.5 1058.3V1123.5M1390.5 1092.8V1123.5M1393.5 1044.5V1123.5M1394.5 1089.3V1123.5M1399.5 1104.6V1123.5M1403.5 1108V1123.5M1406.5 1103.9V1123.5M1407.5 1113V1123.5M1408.5 1105.6V1123.5M1410.5 1087V1123.5M1412.5 1115.3V1123.5M1414.5 1095.2V1123.5M1415.5 1113.4V1123.5M1416.5 1107.5V1123.5M1420.5 1099V1123.5M1424.5 1104V1123.5M1427.5 1098.5V1123.5M1431.5 1113.7V1123.5M1436.5 1102.8V1123.5M1438.5 1114.8V1123.5M1449.5 1097.8V1123.5M1453.5 1092.8V1123.5M1454.5 1108.7V1123.5M1457.5 1117.3V1123.5M1459.5 1110.4V1123.5M1467.5 1096.9V1123.5M1468.5 1097.9V1123.5M1470.5 1093.8V1123.5M1471.5 1113V1123.5M1474.5 1113.3V1123.5M1480.5 1094V1123.5M1484.5 1088.7V1123.5M1485.5 1111.3V1123.5M1487.5 989V1123.5M1489.5 1069.3V1123.5M1492.5 1113.9V1123.5M1497.5 1112.1V1123.5M1498.5 1116V1123.5M1500.5 1116V1123.5M1501.5 1112.8V1123.5M1502.5 1106.9V1123.5M1508.5 1102.8V1123.5M1515.5 1103.5V1123.5M1519.5 1100V1123.5M1522.5 1084.6V1123.5M1524.5 1115.1V1123.5M1527.5 1116.2V1123.5M1528.5 1090.2V1123.5M1530.5 1113.3V1123.5M1534.5 1085.7V1123.5M1535.5 1085.3V1123.5M1536.5 1113.7V1123.5M1538.5 1086.3V1123.5M1539.5 1090.3V1123.5M1540.5 1094.5V1123.5M1541.5 1042.9V1123.5M1543.5 1115.9V1123.5M1544.5 1095.5V1123.5M1545.5 1097.1V1123.5M1551.5 1091.8V1123.5M1554.5 1089.8V1123.5M1562.5 1106.3V1123.5M1564.5 1091.7V1123.5M1565.5 1002.9V1123.5M1566.5 1106.4V1123.5M1567.5 1115.2V1123.5M1569.5 1097.3V1123.5M1570.5 1116.4V1123.5M1571.5 1104.3V1123.5M1577.5 1101.6V1123.5M1579.5 1100.9V1123.5M1584.5 1119V1123.5M1586.5 1114.4V1123.5M1587.5 1117.5V1123.5M1588.5 1109.8V1123.5M1590.5 1104.2V1123.5M1591.5 1112.6V1123.5M1595.5 1119.1V1123.5M1596.5 1120V1123.5M1599.5 1108.7V1123.5M1603.5 1111.8V1123.5M1607.5 1106.5V1123.5M1608.5 1084.9V1123.5M1609.5 1119.4V1123.5M1612.5 1107.3V1123.5M1614.5 1110.2V1123.5M1616.5 1111.5V1123.5M1625.5 1118V1123.5M1633.5 1114.3V1123.5M1634.5 1093.5V1123.5M1635.5 1107V1123.5M1638.5 1107.9V1123.5M1640.5 1108V1123.5M1642.5 1106.7V1123.5M1644.5 1109.7V1123.5M1646.5 1119.2V1123.5M1650.5 1114.3V1123.5M1651.5 1105V1123.5M1656.5 1119.5V1123.5M1657.5 1116.5V1123.5M1661.5 1109.6V1123.5M1664.5 1116.7V1123.5M1665.5 1119.6V1123.5M1667.5 1111.5V1123.5M1668.5 1113.3V1123.5M1669.5 1119.5V1123.5M1673.5 1113.6V1123.5M1674.5 1112.2V1123.5M1680.5 1118.7V1123.5M1682.5 1115.6V1123.5M1684.5 1115.5V1123.5M1687.5 1105.3V1123.5M1690.5 1110.4V1123.5M1698.5 1110.4V1123.5M1712.5 1119V1123.5M1716.5 1118V1123.5M1717.5 1108.9V1123.5M1720.5 1117.8V1123.5M1724.5 1117.2V1123.5M1727.5 1104V1123.5M1729.5 1117.6V1123.5M1732.5 1111.7V1123.5M1733.5 1118.7V1123.5M1736.5 1118.6V1123.5M1738.5 1117.3V1123.5M1742.5 1108.7V1123.5M1745.5 1102.6V1123.5M1749.5 1084.9V1123.5M1750.5 1117.2V1123.5M1751.5 1097.7V1123.5M1753.5 1117.6V1123.5M1758.5 1116.7V1123.5M1760.5 1108.2V1123.5M1771.5 1102.5V1123.5M1772.5 1113.7V1123.5M1775.5 1104.5V1123.5M1777.5 1118.2V1123.5M1779.5 1106.9V1123.5M1780.5 1114.8V1123.5M1781.5 1103.2V1123.5M1783.5 1103.7V1123.5M1784.5 1115.1V1123.5M1785.5 1105.3V1123.5M1788.5 1113.4V1123.5M1792.5 1101.2V1123.5M1798.5 1110V1123.5M1801.5 1099.9V1123.5M1807.5 1116.4V1123.5M1809.5 1091.5V1123.5M1810.5 1104.1V1123.5M1811.5 1110.3V1123.5M1813.5 1104.7V1123.5M1814.5 1111.4V1123.5M1816.5 1106.5V1123.5M1819.5 1103.3V1123.5M1820.5 1101V1123.5M1822.5 1112.1V1123.5M1823.5 1103.1V1123.5M1830.5 1105.6V1123.5M1833.5 1118.3V1123.5M1839.5 1102.2V1123.5M1841.5 1108.4V1123.5M1843.5 1098.2V1123.5M1844.5 1105.2V1123.5M1845.5 1119.3V1123.5M1846.5 1116.8V1123.5M1853.5 1122V1123.5" stroke="#f0acaa" stroke-width="1" fill="none"/>
<path d="M9.5 753.4V760.2M11.5 757.2V763.5M12.5 756V761.6M14.5 754.4V760.6M15.5 753.8V760.1M16.5 746.5V757.6M18.5 745.5V750.6M22.5 747V753M24.5 750V756.5M31.5 753V763M33.5 751.3V761.7M35.5 743V757.7M41.5 742.4V764.5M42.5 723.9V748.8M44.5 725V729.9M48.5 724.1V730.6M49.5 723.5V728.7M54.5 725.9V734.9M57.5 726.7V732.6M58.5 718.3V729.4M59.5 715.6V721.1M61.5 715.4V724.2M62.5 714.1V719.3M63.5 711V717.5M65.5 708.1V722.3M66.5 709V715.7M68.5 708.7V719.3M70.5 707.9V711.7M71.5 707.4V718.5M72.5 703.3V712.1M74.5 703.3V709.9M76.5 702V712.3M78.5 695.7V709.2M82.5 701.9V705.3M83.5 698.5V704.3M85.5 693.9V704.9M87.5 691.3V699.9M88.5 686.3V697.1M92.5 689.5V696.5M97.5 703.5V710.7M98.5 696.8V710.2M101.5 701.3V703.8M110.5 710.7V725.5M113.5 717.1V723.2M114.5 711.8V718.5M115.5 713.7V718.7M117.5 710.9V720.8M118.5 709.1V716.6M119.5 708.4V714.4M121.5 699.3V714.1M122.5 698.6V705.5M123.5 698.6V706.9M126.5 697.3V705.2M127.5 695.5V700.2M128.5 691.7V699.6M131.5 692.8V699.6M132.5 690.1V700.9M135.5 688V700.2M140.5 698.1V702.9M144.5 694.3V709M145.5 694.7V705.4M147.5 690.7V702.6M148.5 687.9V694.7M149.5 678V690.2M151.5 676.8V687.4M152.5 674.9V682.6M156.5 662.9V683M158.5 657.3V680.5M160.5 659V674.6M175.5 772.4V793.9M177.5 764.7V781.1M178.5 763.4V784.9M179.5 758.1V774.8M181.5 749.4V767.3M182.5 736V760.5M183.5 732.4V760.6M192.5 762.3V776.1M194.5 753.1V772.5M195.5 746.1V766.5M200.5 781.4V797M208.5 799.7V822.1M209.5 804.3V810.2M211.5 788.1V805.6M213.5 789.3V800.6M216.5 789.1V801.7M218.5 798.8V806.4M221.5 794.5V805.1M224.5 791.7V806.7M229.5 794.1V823.6M230.5 792.6V805.5M233.5 782.1V803.5M234.5 776.3V795.3M237.5 778.5V781.6M238.5 772.3V785.8M239.5 748V777.9M244.5 792.4V803.5M248.5 802.3V816M250.5 805.8V814.7M251.5 789.3V817.3M254.5 765.5V800.6M257.5 785.1V789M263.5 796.4V807M267.5 797.6V813.5M268.5 794.9V812M269.5 790.3V797.3M274.5 809.2V815.4M276.5 799.2V812.4M281.5 791.9V813.7M293.5 844.1V856.2M295.5 847.7V858M303.5 861.9V872.3M306.5 852.9V865.5M308.5 861.5V870.3M310.5 855.9V865.6M312.5 856.6V872.6M314.5 845.6V862.1M316.5 843.6V860.2M332.5 914.9V924.4M334.5 914.6V925.9M347.5 930.1V939.5M350.5 926.6V939.5M351.5 922.4V936.1M354.5 920.6V932.5M355.5 919.6V928.6M357.5 914.2V931.5M359.5 910.5V924.4M360.5 906.1V915.6M363.5 898.3V912.3M364.5 900.1V908.9M366.5 896.8V903.1M367.5 896V902M370.5 883V904.9M371.5 888V894.3M372.5 882.8V889.4M373.5 881.1V889.4M377.5 884.6V890.5M381.5 881.8V893.7M383.5 879V887M384.5 866.6V882.7M385.5 853V872.1M387.5 860.3V865.1M397.5 889.9V893.4M400.5 887.5V899.3M402.5 892V899.2M403.5 881.7V895.9M407.5 884V890.7M409.5 878.3V888.9M411.5 878.6V889.6M413.5 878.6V883.3M414.5 870.5V884.3M415.5 858.9V873.2M417.5 856.7V866.4M418.5 855V860.2M422.5 852.2V859.6M423.5 850.3V856.1M426.5 852.6V858.9M428.5 851.8V858M430.5 845.8V853.6M431.5 847.4V851.1M433.5 846.4V849.9M440.5 854.3V870.7M445.5 863.9V869.6M450.5 869.2V883M452.5 859.1V876.8M458.5 879.9V884.2M462.5 891.4V898.2M463.5 883.1V900.2M465.5 882.9V889.9M467.5 879.9V892.9M474.5 882.3V890.1M476.5 881.6V891.3M479.5 881V887.3M480.5 883.1V888.5M486.5 884.5V895.3M487.5 870.7V888.2M488.5 858.3V877.8M490.5 850.5V865.2M491.5 840.9V858.4M492.5 840.6V849.1M495.5 837.6V846.7M499.5 836.6V844.6M500.5 837.6V844.3M504.5 829V843.6M522.5 895.3V905.7M523.5 890.1V903.1M526.5 896.9V903.4M527.5 892.9V902.4M529.5 890V900.5M531.5 887.8V897.1M534.5 887.6V893M540.5 894.6V902.1M542.5 889.5V896.9M543.5 882V896.2M544.5 883.2V891.8M548.5 888.1V892.6M552.5 894.3V902.7M564.5 911.5V918.1M565.5 908.7V917.9M568.5 907.1V918.6M569.5 902.9V910M576.5 914V919.7M578.5 915.1V918.1M579.5 902.2V918.1M581.5 896.8V909M582.5 892.4V904.3M583.5 884.3V898.5M585.5 871.6V890.1M586.5 867.4V881.1M587.5 858.6V872.4M589.5 852.5V867M598.5 887.9V896.3M603.5 901V906.6M611.5 921.5V927.2M616.5 926.3V934.5M617.5 921.1V932M621.5 923.3V930.7M625.5 922.7V926.9M628.5 922.4V930.1M629.5 915.6V926.2M630.5 907.7V921.1M632.5 910.3V918.5M633.5 898.5V917.8M634.5 889.4V910.6M642.5 927.7V938.4M650.5 951V960M651.5 945V952.6M652.5 946.8V954.8M654.5 944.5V951M656.5 946.3V953.6M660.5 953.5V960.7M662.5 947.3V960.2M669.5 952.7V966.8M671.5 945.8V958M672.5 940.8V953.2M673.5 940.3V948.2M675.5 932.2V943.4M677.5 930.2V940.3M680.5 936.4V943.9M685.5 946.7V952.7M688.5 948.2V958.8M689.5 942.6V954.7M690.5 935.9V947.9M693.5 928V943.3M706.5 972.9V983.5M707.5 966.8V980.9M708.5 968.6V979M710.5 962.5V974.3M711.5 957.6V965.3M712.5 947.1V962.2M722.5 970.6V984.1M725.5 977.2V990.7M728.5 969.1V981.7M729.5 970.3V974.1M731.5 970V976.2M732.5 965.8V974.5M735.5 972.3V982.2M741.5 989.5V991.4M744.5 983.5V991.8M745.5 972.8V990.5M746.5 975.8V983.4M748.5 977V981.2M755.5 979.9V985.7M758.5 971V985.5M765.5 978.8V990.1M767.5 985.9V995.3M770.5 981.9V995.5M774.5 994.9V1001.7M776.5 998V1005.6M785.5 1011.4V1017.3M787.5 996.6V1014.5M788.5 990.6V1008.4M789.5 985.4V1001M792.5 973.5V989.6M795.5 974.1V978.9M796.5 970V979.1M802.5 983.1V996.4M804.5 976.4V992.5M805.5 977.5V981.3M806.5 965.7V985.4M815.5 988.3V996.3M817.5 976V991.4M818.5 965.8V982.4M819.5 961V968.4M822.5 960.4V966.6M828.5 961.6V969.5M830.5 957.9V965.6M831.5 960V967M835.5 958.8V973.6M836.5 954.7V968.7M838.5 950.1V962.8M839.5 943V953.8M840.5 944.8V949.8M841.5 942.7V947.4M847.5 943.7V954.9M848.5 938.7V946.7M849.5 931.9V943.4M851.5 928.4V937.9M852.5 914V934.2M854.5 921.7V933.8M862.5 927.3V936.6M865.5 935.1V941.9M866.5 930.7V941.3M868.5 927.4V932.4M869.5 926.7V934M870.5 918.2V934.4M871.5 918.1V923.1M873.5 912.9V921.9M874.5 906.2V916.7M883.5 928.7V934.9M884.5 924.1V932.6M886.5 914.8V929M887.5 913.5V923.4M888.5 911.5V921.2M890.5 897V915.7M897.5 919.9V926.9M907.5 941.1V949.5M908.5 940.2V943.5M909.5 935.7V946M911.5 925.5V940M912.5 921.6V932.6M913.5 907V927M926.5 965.6V973.5M937.5 1002.1V1008.5M941.5 1003.9V1007.4M943.5 1000.3V1011.2M950.5 1002.9V1017.2M952.5 999.7V1008M954.5 994.9V1003.5M955.5 992.6V1006.3M956.5 990.5V997.9M957.5 990.5V993.7M959.5 986.7V993.3M960.5 984V991.6M961.5 984.1V985.9M969.5 1001.5V1010.8M972.5 1001.7V1010.1M974.5 997.1V1005.5M977.5 1001.5V1008.8M978.5 1001.3V1004.2M981.5 1002V1005.4M982.5 997.8V1003.9M984.5 997.9V1003.6M986.5 994.5V1000M987.5 993.4V998.7M989.5 990.9V996.9M990.5 990.9V995.6M991.5 987.5V993M997.5 995.4V1000.1M1002.5 995.4V999.3M1004.5 993.3V1000M1007.5 989.5V997.4M1008.5 989.1V995.1M1010.5 985.3V992.3M1011.5 981.3V989.5M1012.5 977.2V987.6M1014.5 972.1V983M1023.5 985.5V991M1024.5 983.4V988.7M1025.5 982.7V986M1027.5 980.7V986.4M1036.5 986.5V989.9M1037.5 983.8V992.2M1038.5 981.4V987M1040.5 976.6V984.8M1049.5 995.8V1000.9M1051.5 997.2V1000.2M1053.5 997.1V1000.9M1059.5 999.7V1005.9M1060.5 1000.5V1007.2M1067.5 1004.5V1008.1M1068.5 997.1V1006.8M1070.5 994.8V1004.1M1071.5 987.7V999M1072.5 983.6V990.9M1073.5 977.6V986.7M1075.5 972.7V982.1M1079.5 976.9V984.4M1083.5 978.2V983.3M1084.5 977.3V982.4M1085.5 975.9V980.2M1092.5 996.2V1000.5M1093.5 991.4V998.4M1097.5 993.9V999.4M1101.5 992.2V1000.3M1102.5 995.5V1000.3M1103.5 993.5V997.9M1105.5 990.9V998.5M1106.5 985.5V998.7M1107.5 968.1V988.8M1110.5 967.1V978.2M1113.5 966.4V977M1115.5 970.7V978.4M1116.5 969.2V979M1119.5 968.2V976.6M1120.5 957.5V974.8M1122.5 957.2V965.8M1123.5 949.1V960M1124.5 945.6V957.2M1126.5 946.3V951.6M1127.5 941V954.6M1130.5 939.2V948.7M1131.5 935.6V945.8M1132.5 936.1V946M1133.5 932.3V940.4M1135.5 927.1V934.1M1136.5 920.2V929.9M1137.5 914V926.9M1139.5 904.8V921M1141.5 903.9V917.8M1143.5 900.1V910.7M1144.5 880.7V908.6M1145.5 868.7V884.5M1146.5 871.6V879.5M1150.5 877.9V889.3M1152.5 876.2V883.9M1154.5 879.3V894.4M1156.5 870.3V888.9M1157.5 850.2V886.9M1158.5 847.6V859.1M1161.5 840V857.9M1162.5 822.9V851.7M1163.5 780.5V833.1M1165.5 752.2V791.5M1166.5 750.4V766.2M1167.5 750V756.8M1169.5 739.7V765.4M1171.5 746.4V751.2M1173.5 705.7V754.9M1174.5 725.2V736.9M1175.5 705V738.9M1183.5 732.6V763.1M1186.5 727.4V754.2M1187.5 722.8V742.7M1189.5 709.7V727.6M1191.5 628V716.3M1192.5 682.1V704.4M1193.5 656.5V687.7M1199.5 685V698.7M1200.5 669.4V702.5M1203.5 711.6V725.2M1204.5 700.6V719.8M1205.5 689V703.9M1206.5 671.8V701.1M1208.5 638.6V682.6M1209.5 630.8V678.4M1212.5 623.7V642.8M1213.5 610.8V638.4M1214.5 594.2V627.3M1216.5 578.4V608.1M1217.5 579.3V603.6M1218.5 577.4V598.7M1219.5 561.9V593.1M1221.5 550.3V571M1222.5 536.7V562.4M1223.5 538.8V563M1225.5 514.3V544.5M1226.5 505.3V518.2M1227.5 498.2V521.8M1229.5 483V518.6M1235.5 510.8V553.4M1236.5 524.1V553.1M1238.5 519.4V536.5M1240.5 514.1V525.2M1243.5 501.6V534M1244.5 501.4V514.3M1246.5 484.2V510.3M1248.5 474V506.2M1249.5 444.6V492.3M1252.5 463.9V493.2M1253.5 453.7V476.5M1255.5 427.8V482.3M1262.5 477.9V493.6M1264.5 458V495M1265.5 441.7V469.9M1268.5 418.2V464.4M1270.5 434.1V475.5M1272.5 418.5V468M1274.5 400.8V453.8M1276.5 399.4V414.4M1277.5 373.7V425.2M1278.5 360.4V390.8M1279.5 379.8V403.1M1281.5 366V390.9M1289.5 470.5V484.1M1295.5 558V604M1296.5 559.5V577.1M1298.5 516V597M1302.5 528.9V590M1304.5 523.1V565.4M1305.5 499.2V539.5M1307.5 484.2V502.6M1308.5 467.7V507.3M1309.5 464.6V482.9M1311.5 440.2V478.9M1312.5 410V468.3M1313.5 426.9V448.9M1315.5 390.1V437.6M1317.5 409.2V449M1319.5 406.2V430M1320.5 378V414.3M1322.5 352.4V402.3M1324.5 350.8V362.6M1325.5 341.4V366.6M1326.5 329V356.2M1329.5 305.3V357.3M1330.5 302.3V333M1333.5 273.5V314.9M1334.5 254.9V294.5M1335.5 233.5V291M1338.5 235.3V249.7M1341.5 228.1V247.7M1343.5 213.8V238.1M1350.5 241.4V258.7M1356.5 281.8V309.9M1358.5 268V290.7M1359.5 239.6V285.9M1360.5 229.3V265.2M1363.5 242.9V270M1364.5 229.3V264.4M1367.5 227.8V258.4M1369.5 225.3V257.3M1371.5 224.1V288M1372.5 234.9V245.9M1373.5 193.6V245.7M1375.5 184.4V230.3M1376.5 133.5V207.5M1377.5 180.6V187.4M1378.5 157.3V194.9M1381.5 180.7V202M1386.5 206.9V222M1392.5 217.9V233M1395.5 218.5V256M1397.5 191.2V246.3M1398.5 197.4V232M1401.5 211.8V225M1402.5 200.3V223.9M1405.5 210.8V231.9M1411.5 237.1V271.6M1418.5 233.7V294.1M1419.5 236.6V257.8M1422.5 237.7V248.5M1423.5 228.1V251.7M1425.5 227.4V253.8M1428.5 250.4V260.1M1429.5 248V281M1432.5 227.1V260.4M1433.5 244.3V254.8M1435.5 215.9V264.2M1437.5 241.3V264.1M1440.5 261.3V284.6M1441.5 235.5V273.5M1442.5 232.4V270.5M1444.5 223.9V250.9M1445.5 224.8V246M1446.5 229V243.1M1448.5 209.5V244M1450.5 223.1V239.9M1451.5 211.8V228.2M1455.5 218.3V233.8M1458.5 207.8V248M1461.5 185.7V216.5M1462.5 157.5V197.6M1463.5 173.3V193.5M1465.5 165.2V178.2M1466.5 160.6V180.5M1472.5 195.8V201.3M1475.5 199V218.2M1476.5 190.1V202.8M1478.5 192.2V200M1479.5 165.5V207.9M1481.5 167.7V186.2M1483.5 166.9V193.8M1488.5 185V217.1M1491.5 177.9V206.3M1493.5 166.2V190.5M1495.5 172.4V187.7M1496.5 164.5V188M1504.5 176.8V202.2M1505.5 172.6V191.6M1506.5 169.2V181.7M1509.5 173.4V190.9M1510.5 173.8V193.5M1511.5 169.5V182.7M1513.5 156.9V176.9M1514.5 137.5V171M1517.5 135.2V151.5M1518.5 121.5V140.7M1521.5 122.1V147.2M1523.5 114.8V128.3M1526.5 125.4V131.9M1531.5 133.4V158.5M1532.5 124V145.7M1547.5 220V246M1548.5 199.9V227.4M1549.5 196.5V220.8M1552.5 192.7V217.1M1553.5 188.7V202.6M1556.5 184.9V197.5M1557.5 180.9V188M1558.5 164.4V186.9M1560.5 152V183.7M1561.5 162.3V172.1M1573.5 196.6V209.2M1574.5 192.7V204.6M1575.5 180.9V196.6M1578.5 186V198.6M1581.5 177.8V197.7M1582.5 179.1V188.9M1583.5 162V182.6M1592.5 205.5V214.2M1594.5 197.1V210.4M1597.5 198.7V215.1M1600.5 203.5V211.1M1601.5 198V205.2M1604.5 191.7V205.9M1605.5 198.8V201.5M1611.5 206.1V218M1613.5 208.2V217.8M1617.5 208.7V217.2M1618.5 203.4V211.4M1620.5 194.6V208.2M1621.5 191.1V199.6M1622.5 187.7V201.8M1624.5 189.9V195.6M1626.5 184.9V195.1M1627.5 181.5V191.5M1629.5 180.3V187.2M1630.5 175.7V186.7M1631.5 171V185.8M1637.5 181.4V191.2M1639.5 186.1V194.7M1643.5 186.4V194.3M1647.5 192.9V202.4M1648.5 191.6V199.4M1652.5 194.8V207.6M1654.5 191.4V198M1655.5 182.9V198M1659.5 183.6V192.4M1660.5 181.2V191.3M1663.5 178.3V186.8M1670.5 208.9V217.7M1672.5 204V213.1M1676.5 212.2V223.2M1677.5 209.8V215.1M1678.5 205.5V217M1681.5 209.1V212.8M1685.5 209.9V214.3M1686.5 208.4V213.3M1689.5 206.7V213.1M1691.5 200.8V210.4M1693.5 202.3V210.8M1694.5 199.2V207.8M1695.5 199.6V206.4M1697.5 196.9V201.4M1699.5 197.7V201.7M1700.5 197.5V201.3M1702.5 194.7V200.6M1703.5 192.4V199.7M1704.5 185.3V195.5M1706.5 182V187.3M1707.5 174.8V189.2M1708.5 177.9V182.8M1710.5 175V182.7M1711.5 172.8V180.5M1713.5 168.2V180.4M1715.5 172.4V174.6M1719.5 175.6V178.9M1721.5 179.4V187.2M1723.5 173.9V184M1725.5 173V182.8M1728.5 173V180.3M1730.5 172.8V184.2M1734.5 174.7V186M1737.5 169.4V179.8M1740.5 174.1V178.6M1741.5 165.3V177.9M1743.5 168.5V173.5M1746.5 166.8V174.9M1747.5 163.9V174.9M1754.5 181.4V184.4M1755.5 175.7V184.2M1757.5 176.5V180.6M1759.5 176V181.9M1762.5 172.6V179.8M1763.5 172.7V177.3M1764.5 167.5V176.1M1766.5 167V172.1M1767.5 162.4V171.9M1768.5 160.6V170.5M1770.5 154.7V167.6M1773.5 165.9V169.7M1776.5 166.8V172.1M1786.5 193.9V198.2M1789.5 191.6V196M1790.5 182.8V198.4M1793.5 184.7V190.7M1794.5 182.9V187.8M1796.5 180.7V186.7M1797.5 180.9V186.6M1800.5 180.7V186.1M1802.5 177.7V187.3M1803.5 179.9V185.9M1805.5 173.9V185.4M1806.5 172.4V184.3M1815.5 218.4V237.6M1818.5 214.5V235.9M1824.5 218.8V226.4M1826.5 209.1V228.3M1827.5 206.4V220M1828.5 195.9V209.6M1831.5 194.5V205M1832.5 194.7V198.1M1835.5 183.2V202.1M1836.5 174.2V193.5M1837.5 172.9V182.8M1840.5 154.7V181.2M1848.5 189.7V201.5M1849.5 194.7V198.7M1850.5 195V200.3M1852.5 192.8V201.8M1854.5 189.1V203.7" stroke="#35857a" stroke-width="1" fill="none"/>
<path d="M3.5 749.9V753.4M5.5 748.9V755M6.5 752V761.6M7.5 756.3V759.3M10.5 751V767.6M19.5 744.6V750.4M20.5 745.4V753.6M23.5 745.5V756M25.5 748.2V757.1M27.5 750.8V761.4M28.5 755.7V762.6M29.5 755.9V762.8M32.5 750V764.2M36.5 747V754.8M37.5 750.4V757.2M38.5 750.7V760.8M40.5 756.3V767.4M45.5 720.9V728.7M46.5 725V730.5M50.5 723.8V732.1M52.5 722.7V730.1M53.5 727.6V735.3M55.5 727.7V735.4M67.5 708.5V714.2M75.5 701.2V710.2M79.5 694.5V705.6M80.5 703.4V705.6M84.5 698.3V705.5M89.5 683.8V693.7M91.5 684.6V697M93.5 690.3V702.4M95.5 696.2V706.5M96.5 699.4V708.1M100.5 699.5V705.5M102.5 700.8V713.4M104.5 700.2V709.2M105.5 703.9V711.4M106.5 709.9V719.3M108.5 711.3V719.9M109.5 712.4V722.3M111.5 710.2V721.5M125.5 697.4V704.4M130.5 692V697.9M134.5 687.6V696M136.5 686.6V701.2M138.5 691.9V700.3M139.5 696.2V703.1M141.5 698.4V704M143.5 697.3V701.6M153.5 675.7V681.1M155.5 674.1V682.7M157.5 665.5V680.5M161.5 665.1V681.4M162.5 676.6V694.2M164.5 690.8V712.4M165.5 706.1V717.2M166.5 715.3V736.1M168.5 726.1V752M169.5 745.6V767.2M170.5 759V787.5M171.5 769.1V786.2M173.5 764.5V789.1M174.5 779.2V799.2M184.5 747.3V767.7M186.5 745.5V760.4M187.5 746.2V760M188.5 750.8V769.1M190.5 758.1V770.7M191.5 765.9V773.8M196.5 749.9V763.4M198.5 749.8V775.4M199.5 765.8V792.5M201.5 785.8V797.5M203.5 781.5V807.2M204.5 791.2V808.1M205.5 802.9V815.3M207.5 802.9V823.6M212.5 793.6V798.9M214.5 789.5V802.5M217.5 793.8V805.4M220.5 796.7V805M222.5 793.6V806.6M225.5 793.2V799.2M226.5 792V803.6M228.5 798V816.1M231.5 792.1V808.1M235.5 773.3V782.9M241.5 758.2V784.4M242.5 771.8V788.5M243.5 780.7V803.2M246.5 796.5V813.5M247.5 808V814.8M252.5 781.6V800.9M255.5 774.6V783.5M256.5 774.1V787.3M259.5 784.2V802.5M260.5 793.2V808.6M261.5 797.6V807.7M264.5 798.8V810.7M265.5 802.1V810.6M271.5 781.4V807.6M272.5 795.3V811.1M273.5 800V816.1M277.5 804.3V810.5M278.5 803.6V814M280.5 805.9V812.7M282.5 796.8V803.1M284.5 791.5V817.2M285.5 797.5V828.2M286.5 820.1V832.7M287.5 828.2V843.2M289.5 827.5V854.4M290.5 843.5V890M291.5 846.3V865.8M294.5 842.4V857.5M297.5 846.3V854.2M298.5 850.3V857.1M299.5 847.6V863.7M300.5 857.3V864.9M302.5 856.4V867.1M304.5 859.7V867.1M307.5 859.5V872.2M311.5 858.2V866.5M315.5 855.4V862.1M317.5 850.2V873.2M319.5 859.3V866M320.5 853.4V869.6M321.5 848V868.2M323.5 859.5V878M324.5 866.4V875.8M325.5 869.7V878.2M327.5 873.9V882.8M328.5 878.7V895.6M329.5 893.2V910M330.5 901.9V921.8M333.5 914.9V923.2M336.5 915.1V920.1M337.5 917.4V921.8M338.5 917.7V928M340.5 915.2V926.6M341.5 919.4V929.7M342.5 919.1V932.3M344.5 919.3V931.3M345.5 926.9V931.4M346.5 920.2V938M349.5 929.8V950.5M353.5 921.8V926.8M358.5 911.6V922.1M362.5 906V915M368.5 890.3V901.2M375.5 879.5V884.6M376.5 881.3V893.3M379.5 884.9V891.3M380.5 888.4V893.6M388.5 861V869.6M389.5 864.1V876.8M390.5 871.7V883.7M392.5 877.4V887.8M393.5 881.8V894.8M394.5 882.9V890.7M396.5 880.8V900.9M398.5 884.9V894.3M401.5 888.3V895.4M405.5 882.7V888.2M406.5 878.5V888.9M410.5 875.9V889.3M419.5 854.3V864.6M420.5 856V858.3M424.5 849.1V857.8M427.5 850.4V858.2M432.5 844.9V850.9M435.5 845.9V853.4M436.5 846.8V853.1M437.5 847.3V855.2M439.5 845.6V863.2M441.5 856.9V860.3M443.5 855.9V871.2M444.5 862.1V868.2M446.5 864.2V878.8M448.5 870.2V877.3M449.5 873.7V878.8M453.5 862.1V868.6M454.5 862.8V869.2M456.5 859.8V873.3M457.5 863.2V884M460.5 880.3V894.7M461.5 888.4V910M466.5 883.5V886.8M469.5 880.6V886.7M470.5 883.4V888.7M471.5 882.4V888.5M473.5 881.6V889.4M475.5 879.4V888.9M478.5 881.4V888.9M482.5 879.6V888.6M483.5 879V893.2M484.5 886.6V892.8M493.5 829V843.5M496.5 836.3V842.5M497.5 838.6V848.3M501.5 837.1V843M503.5 839.3V843.9M505.5 838.3V849.9M506.5 838.8V845.4M508.5 841.8V851.2M509.5 840V851M510.5 839.9V848.5M512.5 840.6V858.4M513.5 850.4V860.5M514.5 854.1V869.3M516.5 861.8V870.8M517.5 864.7V878M518.5 875V884.2M519.5 878.9V897M521.5 890.5V923.6M525.5 891.9V904.5M530.5 890.9V894.3M533.5 888.8V892M535.5 888.6V895.2M536.5 888.5V893.4M538.5 889.6V898.9M539.5 892.9V901.8M546.5 885.3V893.3M547.5 888.3V898.7M549.5 886.9V895.4M551.5 888.9V902.4M553.5 894.5V899.2M555.5 896.5V898.9M556.5 895V901.5M557.5 892.9V905.1M559.5 896.3V911.1M560.5 904.9V913.5M561.5 905.8V916M563.5 909V921.7M566.5 909.6V914M570.5 902.6V907.7M572.5 904.6V913.7M573.5 901.5V917.2M574.5 909.6V921.8M577.5 910.3V919.2M590.5 852.1V866.3M591.5 861.6V877.9M592.5 870.4V881.3M594.5 874.9V885.8M595.5 876.3V886.1M596.5 882.6V895.6M599.5 885.7V903.9M600.5 897V906.9M602.5 897.9V906.1M604.5 895.2V909.5M606.5 900V916.5M607.5 905.2V924.1M608.5 916.1V920.5M609.5 915.7V926M612.5 923V936.9M613.5 929.5V933.6M615.5 929.7V934.3M619.5 917.2V931.1M620.5 925V934.2M622.5 922.4V928M624.5 922.5V927.7M626.5 924.3V927.3M635.5 897.7V906.9M637.5 902.9V918.3M638.5 915.6V933M639.5 927.4V936.9M641.5 928.5V940.3M643.5 931.8V939.9M645.5 933.4V945.4M646.5 936.3V948.7M647.5 945.1V951.5M649.5 947.6V954.6M655.5 946.4V955.6M658.5 944V957.1M659.5 948.4V960.1M663.5 947.9V957.2M664.5 950.2V956M665.5 950V956M667.5 952.3V961.7M668.5 957.8V970.5M676.5 923.5V939.5M679.5 930.9V943.2M681.5 935.9V944.7M682.5 941.7V946.5M684.5 943.2V951.3M686.5 943.6V958M692.5 939.2V943.2M694.5 934V949.4M695.5 939V947.7M697.5 945.4V958.1M698.5 955.3V961.7M699.5 960V974.9M701.5 963.1V977.4M702.5 972.7V974.7M703.5 972.9V977.2M705.5 972.6V983.5M714.5 938.5V955.8M715.5 951.7V962.9M716.5 954.3V973.3M718.5 964.7V975.3M719.5 968.1V978.5M720.5 972.2V983.3M723.5 972.7V982.4M724.5 973.7V985.9M727.5 975.5V983.9M733.5 965.7V980M736.5 969.4V978.8M737.5 971.9V986.1M738.5 978.4V990.6M740.5 984V994M742.5 989.1V994.6M749.5 973.6V983.1M750.5 976.5V984.1M752.5 980.1V985.2M753.5 977.8V986.2M754.5 980.8V987.8M757.5 978.6V986.9M759.5 970.1V980.9M761.5 971.8V983.5M762.5 974.6V980M763.5 977.5V983.7M766.5 980V990.5M768.5 987.5V997.8M771.5 985.9V991.2M772.5 987.5V999.1M775.5 991.4V1001.6M778.5 992.3V1003.5M779.5 1000.5V1016.7M780.5 1006.4V1016.8M781.5 1009.4V1014.5M783.5 1010.2V1017.4M784.5 1014.3V1023.5M791.5 983.6V991M793.5 973.1V979M797.5 966V984.6M798.5 978.5V989M800.5 984.7V996.4M801.5 986.5V1000.3M808.5 970.4V977.2M809.5 974V977.4M810.5 975.3V981.1M811.5 977.3V989.1M813.5 986.1V994.9M814.5 987.7V997.3M821.5 959.7V969.3M823.5 963.7V968.5M825.5 963.3V967.5M826.5 962.2V971.8M827.5 965.7V970.6M832.5 962.6V973.5M834.5 965.7V974.8M843.5 937.8V949M844.5 945.9V952.9M845.5 949.4V956.8M853.5 922.4V927.7M856.5 922.9V928.3M857.5 919.8V931.5M858.5 923.5V931.3M860.5 922.4V937.5M861.5 927.1V937.7M864.5 928.8V939.8M875.5 904.9V910.6M877.5 908.3V912.8M878.5 901.7V917.3M879.5 912.4V923.3M881.5 920.1V931.8M882.5 929.2V933.6M891.5 906.4V915.8M892.5 911.8V917.9M894.5 912.2V918.8M895.5 908.1V920.8M896.5 917.6V925.1M899.5 917.8V925.2M900.5 920.9V932.2M901.5 924.9V932.4M903.5 925.6V937.9M904.5 931V941M905.5 931.9V945.2M914.5 915.2V923.3M916.5 917.4V923.9M917.5 919.5V933.6M918.5 927V930.8M920.5 926.3V941.4M921.5 936.6V944M922.5 937.5V955.2M924.5 948.9V967.1M925.5 959.3V969.2M927.5 957V973.8M929.5 969.7V975.1M930.5 970.3V982.8M931.5 973V985.8M933.5 980.7V992.2M934.5 987.2V1004.2M935.5 994.4V1023.5M938.5 998.3V1007.5M939.5 1003.1V1012.6M942.5 1002.7V1013M944.5 1000.7V1014.8M946.5 1009.8V1014.9M947.5 1009.7V1032M948.5 1012.4V1016.5M951.5 1003.2V1007.3M963.5 979.7V986.6M964.5 984.2V989.4M965.5 984.3V999.7M967.5 995V1002.9M968.5 999.7V1014.2M970.5 1003.5V1009.7M973.5 1001.8V1009.4M976.5 1000V1005.3M980.5 1000.9V1005.5M985.5 997.4V1001.1M993.5 986.9V995.7M994.5 988.5V994.6M995.5 990.7V999.8M998.5 993.6V998.9M999.5 995V999.4M1000.5 996.4V999.6M1003.5 993.4V1001.2M1006.5 992.3V998.9M1015.5 967.5V979.5M1016.5 974.4V982.1M1017.5 977.8V983.4M1019.5 980.7V989.4M1020.5 985.8V993.2M1021.5 988.5V993.4M1028.5 980.6V987M1029.5 983V985.8M1030.5 981.6V986.8M1032.5 983.8V988.9M1033.5 985.1V990.6M1034.5 985.7V993.4M1041.5 975.6V984.5M1042.5 978.9V987M1043.5 983.8V990.4M1045.5 988.2V994.9M1046.5 989.6V996.5M1047.5 992.3V999.7M1050.5 995.1V1000.1M1054.5 997V1001.1M1055.5 996.9V1004.7M1057.5 997.6V1004.5M1058.5 998.3V1005.2M1062.5 999.8V1004.8M1063.5 1001.3V1004.8M1064.5 1000.1V1007M1066.5 1003.9V1009.9M1076.5 976V979.8M1077.5 976.9V982.7M1080.5 974.3V983.7M1081.5 979.2V985.3M1087.5 976.1V983.1M1088.5 978V995M1089.5 987.6V997.4M1090.5 994.7V1000.1M1094.5 992V997.4M1096.5 995.5V999.4M1098.5 991.1V1000.5M1100.5 995.5V1014M1109.5 971.1V976.3M1111.5 967.2V973.3M1114.5 969.6V977.6M1118.5 969.3V974.8M1128.5 936.8V945.1M1140.5 905.3V918.9M1148.5 871V881.8M1149.5 873.1V888.9M1153.5 870.7V888M1160.5 829.7V851.2M1170.5 740.7V775M1176.5 701.7V742.5M1178.5 715.5V720.4M1179.5 713V782M1180.5 732.5V765.6M1182.5 748.4V763.1M1184.5 730.6V748.2M1188.5 713V753.3M1195.5 660.9V672.3M1196.5 666.6V703M1197.5 685.9V707.3M1201.5 665.6V727.5M1210.5 631V645.7M1230.5 486.5V514M1231.5 498.7V527M1232.5 519.9V536.3M1234.5 496.4V590M1239.5 520.4V524.3M1242.5 515.1V536.7M1247.5 477.6V511.3M1251.5 454.2V486.5M1256.5 425.8V454.2M1257.5 433.3V455.2M1259.5 452.2V483.3M1260.5 433.1V472.3M1261.5 456.1V511.5M1266.5 434V465.6M1269.5 416.9V466.8M1273.5 400.1V463.3M1282.5 376.1V387.6M1283.5 380.1V427.7M1285.5 408.1V442.3M1286.5 423.6V461.9M1287.5 442.7V490.8M1290.5 461.6V503.7M1291.5 469.4V556M1292.5 530V567.5M1294.5 555.4V670M1299.5 517.9V562.5M1300.5 541.1V557.5M1303.5 538.1V549M1316.5 409.4V444.7M1321.5 385.8V413.9M1328.5 313.9V351.9M1332.5 302.4V311.8M1337.5 212.5V261.1M1339.5 233.3V250.4M1342.5 211V232.4M1345.5 227.1V242.4M1346.5 222.9V246.7M1347.5 226.3V269.5M1349.5 236.9V260.6M1351.5 239.8V256M1352.5 237.2V269M1354.5 247V331M1355.5 287.3V300.7M1362.5 243.7V272.6M1365.5 210.4V257.3M1368.5 239V265.1M1380.5 148V194.7M1382.5 172.2V207.7M1384.5 183.7V201.5M1385.5 180.6V224M1388.5 205.4V224.5M1389.5 190V259M1390.5 215.1V243.3M1393.5 225.4V246M1394.5 231.6V266M1399.5 203.4V221.7M1403.5 200.5V232.3M1406.5 207.3V236.7M1407.5 223.9V235.5M1408.5 201.9V261.9M1410.5 244.1V280.5M1412.5 221.3V254.3M1414.5 238.7V258.6M1415.5 241.7V276M1416.5 248.1V265.7M1420.5 236V261.6M1424.5 225.2V283.9M1427.5 230.3V257.9M1431.5 244.7V259M1436.5 232V266.9M1438.5 243.5V295M1449.5 223.8V244.9M1453.5 216.8V238.1M1454.5 222.6V232.8M1457.5 225.5V245.1M1459.5 193.3V215.8M1467.5 162.7V169.7M1468.5 155.1V178.5M1470.5 166.2V190.5M1471.5 174.8V203.9M1474.5 193.9V208.8M1480.5 174.3V187.1M1484.5 155V180.8M1485.5 167.7V186.4M1487.5 179.5V231.7M1489.5 186.3V220M1492.5 173.3V192.5M1497.5 160.1V172.8M1498.5 151.8V173M1500.5 161.3V184.2M1501.5 170.9V198.5M1502.5 182.8V194.1M1508.5 176.6V189M1515.5 137V158.5M1519.5 123.5V148.6M1522.5 122.6V128.4M1524.5 119.9V145.6M1527.5 122.2V145.8M1528.5 134V151.5M1530.5 132.6V149.5M1534.5 128.8V144.2M1535.5 127.6V147M1536.5 129V156.9M1538.5 141.5V173.5M1539.5 161.8V176.7M1540.5 167.8V183.2M1541.5 177.4V207.2M1543.5 188.7V212.9M1544.5 204.5V232M1545.5 214.5V235.3M1551.5 202.6V216.1M1554.5 184.8V196.4M1562.5 162.3V177M1564.5 167.6V180M1565.5 167.2V198.2M1566.5 182.3V210.2M1567.5 200.1V206.5M1569.5 198.7V208.8M1570.5 201.5V213.5M1571.5 202.4V209.7M1577.5 183.9V195.2M1579.5 189V196.2M1584.5 172.1V177.7M1586.5 167.8V184M1587.5 175.7V193.8M1588.5 184.5V202.7M1590.5 192.2V206M1591.5 201.1V220M1595.5 202.9V211M1596.5 202V210.1M1599.5 198.9V211.2M1603.5 201.3V206.3M1607.5 196.9V207.6M1608.5 200.4V228M1609.5 210.5V221.8M1612.5 210.3V216.3M1614.5 204.9V214.1M1616.5 210V217.2M1625.5 192.4V195.4M1633.5 174.7V185.4M1634.5 175.1V201M1635.5 181V191.3M1638.5 182.8V192.7M1640.5 182.9V195.4M1642.5 190V193.7M1644.5 190.2V195.4M1646.5 189.3V208.4M1650.5 189.3V199.3M1651.5 194.7V208M1656.5 184.7V189.7M1657.5 187.4V191.9M1661.5 182.8V190.6M1664.5 180.2V192.9M1665.5 186.5V196.8M1667.5 192V209.2M1668.5 201.7V225M1669.5 214.8V217.3M1673.5 206.8V216.9M1674.5 208.2V216M1680.5 208.2V217.4M1682.5 203.8V212.6M1684.5 207.2V215.6M1687.5 207.8V212.3M1690.5 205.5V214.9M1698.5 196.6V203.6M1712.5 169.7V180.8M1716.5 168V180M1717.5 171.3V184.5M1720.5 175.8V191.5M1724.5 170.8V180.1M1727.5 172.7V180.8M1729.5 169.8V182.1M1732.5 173.2V180M1733.5 175.1V180.4M1736.5 170.6V181.4M1738.5 174.4V182.4M1742.5 162.9V171.6M1745.5 167.9V174.6M1749.5 165.7V190M1750.5 171V178.2M1751.5 173.8V181.7M1753.5 177.8V184M1758.5 175.7V180.6M1760.5 173.2V180.7M1771.5 157.4V166.6M1772.5 162.4V172.2M1775.5 165.6V173.9M1777.5 166.8V174.9M1779.5 169.8V176.1M1780.5 171.8V189.7M1781.5 183.7V188.1M1783.5 181.7V189.2M1784.5 186.3V195.1M1785.5 192V206M1788.5 191.6V197.1M1792.5 186.4V192.1M1798.5 180.8V186.8M1801.5 181.5V184.3M1807.5 174.4V189.7M1809.5 184.5V198.5M1810.5 191.2V213.2M1811.5 210.6V218.6M1813.5 215.7V223.6M1814.5 212.8V233.1M1816.5 221.1V228.8M1819.5 213.4V223.1M1820.5 218.1V227.4M1822.5 220.9V233.7M1823.5 220.1V235M1830.5 191.4V206.5M1833.5 193.4V201.4M1839.5 173.8V178.8M1841.5 170.1V187.9M1843.5 179V192.9M1844.5 182.8V192.3M1845.5 186.5V199.6M1846.5 187.1V200.3M1853.5 190.7V202.4" stroke="#b8505a" stroke-width="1" fill="none"/>
<path d="M9.5 756.5V758.2M11.5 759.2V762M12.5 758.1V759.2M14.5 756.1V758.1M15.5 756V757M16.5 749.2V756M18.5 747.9V749.2M22.5 751.9V752.9M24.5 753V754.5M31.5 756.4V760.9M33.5 756.1V759.4M35.5 750.8V756.1M41.5 745.7V762.3M42.5 726.3V745.7M44.5 726.1V727.1M48.5 728V729M49.5 727.1V728.1M54.5 730.1V731.1M57.5 728.3V731.6M58.5 720.5V728.3M59.5 717.8V720.5M61.5 717.7V718.7M62.5 715.9V717.7M63.5 714.3V715.9M65.5 714V715M66.5 710.3V714M68.5 710.8V711.8M70.5 710.1V711.1M71.5 708.2V710.1M72.5 706.8V708.2M74.5 706.7V707.7M76.5 704.4V708.5M78.5 699.4V704.4M82.5 702.9V704.5M83.5 702.2V703.2M85.5 694.9V702.3M87.5 693.8V694.9M88.5 688.7V693.8M92.5 693.4V694.4M97.5 705.3V706.3M98.5 700.6V705.3M101.5 702.2V703.2M110.5 714.4V719.2M113.5 717.7V720.9M114.5 717.6V718.6M115.5 717.1V718.1M117.5 713.1V717.1M118.5 711.5V713.1M119.5 709V711.5M121.5 703.3V709M122.5 701.9V703.3M123.5 701.4V702.4M126.5 698.8V702.8M127.5 698.2V699.2M128.5 694.9V698.2M131.5 694.3V695.3M132.5 692V694.3M135.5 694.2V695.2M140.5 699.6V700.6M144.5 697.3V700.7M145.5 697.2V698.2M147.5 692.6V697.2M148.5 688.7V692.6M149.5 681.5V688.7M151.5 681.2V682.2M152.5 677.4V681.2M156.5 669.8V678.7M158.5 669.6V675.9M160.5 668.5V669.6M175.5 776.2V790.3M177.5 774.3V776.2M178.5 767.7V774.3M179.5 764.9V767.7M181.5 754.4V764.9M182.5 752.5V754.4M183.5 748.4V752.5M192.5 769.3V771.8M194.5 762.5V769.3M195.5 750.8V762.5M200.5 786.7V790.7M208.5 806.6V815.1M209.5 804.9V806.6M211.5 796.1V804.9M213.5 794.1V797.9M216.5 795.6V800.9M218.5 800.9V803.9M221.5 795.9V804.1M224.5 794.5V801.7M229.5 801.3V808.9M230.5 794.6V801.3M233.5 788.3V799.9M234.5 779.9V788.3M237.5 780.4V781.4M238.5 773.1V780.4M239.5 769.1V773.1M244.5 797.1V798.7M248.5 809.5V812.3M250.5 806.5V809.5M251.5 790.2V806.5M254.5 775.6V793.1M257.5 786.2V787.2M263.5 802.4V804.4M267.5 809V810M268.5 796.4V809M269.5 793V796.4M274.5 811.6V812.6M276.5 808V811.6M281.5 801.4V811.2M293.5 848.4V852.8M295.5 849.6V850.7M303.5 863.5V864.8M306.5 862.6V864.7M308.5 864.9V867.5M310.5 859.5V864.9M312.5 858.6V864.5M314.5 856.8V858.6M316.5 853.6V856.9M332.5 916.9V917.9M334.5 915.8V918.9M347.5 932.7V934.7M350.5 933.3V935.9M351.5 925.7V933.3M354.5 923.3V925.9M355.5 921.6V923.3M357.5 919.6V921.6M359.5 914.6V921.3M360.5 910.5V914.6M363.5 905.8V910.7M364.5 902.3V905.8M366.5 898.8V902.3M367.5 896.7V898.8M370.5 892V897.9M371.5 888.8V892M372.5 884.9V888.8M373.5 882.7V884.9M377.5 888V889M381.5 884.8V892.5M383.5 880.9V884.8M384.5 871.3V880.9M385.5 863.7V871.3M387.5 862.6V863.7M397.5 892V893M400.5 890.7V893.4M402.5 893V894.3M403.5 885.9V893M407.5 886.8V887.8M409.5 879.4V886.8M411.5 881.9V887.7M413.5 881.6V882.6M414.5 871.6V881.6M415.5 862.8V871.6M417.5 858V862.8M418.5 856V858M422.5 853.6V857.7M423.5 853.2V854.2M426.5 855.2V856.2M428.5 852.5V856.9M430.5 848.3V852.5M431.5 848.2V849.2M433.5 847V848.5M440.5 857.9V862M445.5 866.4V867.5M450.5 873.6V876.3M452.5 865.5V873.6M458.5 881.2V882.2M462.5 892.9V896.6M463.5 889.3V892.9M465.5 885.8V889.3M467.5 882.7V885.9M474.5 885.4V887.1M476.5 885.8V888.3M479.5 885.9V886.9M480.5 884.8V885.9M486.5 887V890.9M487.5 872.9V887M488.5 862.8V872.9M490.5 851.8V862.8M491.5 843.8V851.8M492.5 842.2V843.8M495.5 838.4V842.8M499.5 842.7V843.7M500.5 841.2V842.7M504.5 839.2V842.8M522.5 900.1V902.4M523.5 896.2V900.1M526.5 898.1V902.3M527.5 898V899M529.5 892.3V898M531.5 889.7V893.6M534.5 890V891M540.5 896.2V900.7M542.5 892.1V896.2M543.5 890.9V892.1M544.5 889.1V890.9M548.5 890.8V891.8M552.5 896.8V900.1M564.5 915V916.9M565.5 911.6V915M568.5 909.4V912.5M569.5 904.9V909.4M576.5 915V916M578.5 916.3V917.3M579.5 906V916.3M581.5 899.6V906M582.5 896.2V899.6M583.5 887.6V896.2M585.5 874.4V887.6M586.5 869V874.4M587.5 863.8V869M589.5 856.6V863.8M598.5 889.1V892.1M603.5 902V904.2M611.5 924.3V925.3M616.5 930.7V932.4M617.5 925.4V930.7M621.5 924.4V928.6M625.5 925V926M628.5 924V926.3M629.5 918V924M630.5 913.5V918M632.5 912.8V913.8M633.5 902.7V912.8M634.5 899.6V902.7M642.5 933.8V936.5M650.5 951.8V953.6M651.5 951.3V952.3M652.5 948.2V951.3M654.5 947.2V948.2M656.5 950.9V952.2M660.5 954.5V959.3M662.5 951.1V954.5M669.5 956.2V961.8M671.5 948.7V956.2M672.5 944.8V948.7M673.5 942.1V944.8M675.5 935.2V942.1M677.5 933.6V935.3M680.5 938.3V939.5M685.5 948.8V949.8M688.5 949.8V955.2M689.5 946V949.8M690.5 940.1V946M693.5 934.9V941.1M706.5 973.6V981.6M707.5 970.8V973.6M708.5 969.4V970.8M710.5 963.6V969.4M711.5 958.6V963.6M712.5 952.1V958.6M722.5 978.5V980.5M725.5 979.3V984.6M728.5 973.5V980.2M729.5 973.2V974.2M731.5 972.4V973.4M732.5 971.8V972.8M735.5 976V977.3M741.5 990.5V991.5M744.5 986.8V990.9M745.5 979V986.8M746.5 978.8V979.8M748.5 978.3V979.3M755.5 981.1V985M758.5 973.7V984M765.5 981.5V982.6M767.5 988.2V989.3M770.5 988.1V993.5M774.5 995.6V998.4M776.5 999.7V1000.7M785.5 1012.4V1016.3M787.5 1003.7V1012.4M788.5 997.9V1003.7M789.5 988.1V997.9M792.5 976.7V988.2M795.5 974.9V977.3M796.5 974.2V975.2M802.5 989.5V993.6M804.5 978.7V989.5M805.5 978.2V979.2M806.5 973V978.2M815.5 990.4V995M817.5 981.2V990.4M818.5 967.5V981.2M819.5 963.7V967.5M822.5 964.6V965.7M828.5 963.8V967.2M830.5 963.5V964.5M831.5 963.3V964.3M835.5 964.8V971M836.5 958.9V964.8M838.5 952.9V958.9M839.5 947.1V952.9M840.5 945.5V947.1M841.5 943.8V945.5M847.5 944.7V953M848.5 942.7V944.7M849.5 935.9V942.7M851.5 930.4V935.9M852.5 926V930.4M854.5 925.4V927.1M862.5 931.2V934.8M865.5 937.6V939.2M866.5 931.5V937.6M868.5 929.6V931.5M869.5 928.2V929.6M870.5 921V928.2M871.5 919.2V921M873.5 914.5V919.2M874.5 908.5V914.5M883.5 929.9V932.2M884.5 926.6V929.9M886.5 919.2V926.6M887.5 918.5V919.5M888.5 914.5V918.5M890.5 909.8V914.5M897.5 922.8V923.8M907.5 942.7V944.4M908.5 941.6V942.7M909.5 936.7V941.6M911.5 926.2V936.7M912.5 923.4V926.2M913.5 916.3V923.4M926.5 967.6V968.6M937.5 1004.1V1005.3M941.5 1005.9V1006.9M943.5 1003.1V1008.7M950.5 1005.8V1015.3M952.5 1002.9V1006.6M954.5 998.4V1002.9M955.5 996.3V998.4M956.5 993.1V996.3M957.5 991.9V993.1M959.5 988.3V991.9M960.5 985.1V988.3M961.5 985V986M969.5 1004.7V1009.2M972.5 1003.9V1005.6M974.5 1002.6V1004.8M977.5 1003.6V1004.6M978.5 1002.3V1003.6M981.5 1002.9V1003.9M982.5 1000.3V1002.9M984.5 998.9V1000.3M986.5 996.6V999.4M987.5 995V996.6M989.5 994.1V995.1M990.5 992V994.1M991.5 989.4V992M997.5 996.3V999.1M1002.5 996.2V998.2M1004.5 994.6V998.7M1007.5 992.7V994.9M1008.5 991.2V992.7M1010.5 986.6V991.2M1011.5 984.1V986.6M1012.5 979.7V984.1M1014.5 975.6V979.7M1023.5 986.3V989.7M1024.5 984.6V986.3M1025.5 983.7V984.7M1027.5 982.7V983.7M1036.5 987.9V988.9M1037.5 984.5V987.9M1038.5 982.9V984.5M1040.5 979.9V982.9M1049.5 996.8V998.5M1051.5 998.8V999.8M1053.5 997.8V998.8M1059.5 1002.8V1003.8M1060.5 1001.5V1002.8M1067.5 1006.1V1007.3M1068.5 1001V1006.1M1070.5 997V1001M1071.5 990V997M1072.5 984.7V990M1073.5 980.7V984.7M1075.5 976.6V980.7M1079.5 978.6V981.2M1083.5 979.9V981.9M1084.5 979.6V980.6M1085.5 979.2V980.2M1092.5 997.3V998.8M1093.5 993.8V997.3M1097.5 995V996.6M1101.5 996.9V998.5M1102.5 996.9V997.9M1103.5 995.1V996.9M1105.5 992.9V995.1M1106.5 987.2V992.9M1107.5 972.7V987.2M1110.5 968.8V973.9M1113.5 970.5V971.5M1115.5 975.1V976.1M1116.5 972.7V975.1M1119.5 970.1V973M1120.5 962.9V970.1M1122.5 959.2V962.9M1123.5 953.7V959.2M1124.5 950.3V953.7M1126.5 948V950.3M1127.5 942.3V948M1130.5 941.4V942.9M1131.5 941.2V942.2M1132.5 938V941.2M1133.5 933.2V938M1135.5 928.9V933.2M1136.5 925.3V928.9M1137.5 917.4V925.3M1139.5 909.1V917.4M1141.5 907.3V912.2M1143.5 905.7V907.3M1144.5 883.7V905.7M1145.5 877.9V883.7M1146.5 873.5V877.9M1150.5 882.7V885.8M1152.5 877.6V882.7M1154.5 882.2V884.6M1156.5 873.5V882.2M1157.5 855.9V873.5M1158.5 848.6V855.9M1161.5 842.9V850.4M1162.5 827.4V842.9M1163.5 781.9V827.4M1165.5 761.5V781.9M1166.5 754.8V761.5M1167.5 753V754.8M1169.5 747.9V753M1171.5 747.4V749.7M1173.5 732.8V747.4M1174.5 727.3V732.8M1175.5 714.5V727.3M1183.5 746.6V757M1186.5 733.9V746.8M1187.5 726.5V733.9M1189.5 711.4V726.7M1191.5 693.6V711.4M1192.5 683.6V693.6M1193.5 664.7V683.6M1199.5 691.1V695.1M1200.5 684.4V691.1M1203.5 717V718.1M1204.5 701.3V717M1205.5 696.5V701.3M1206.5 677.9V696.5M1208.5 651.5V677.9M1209.5 634.1V651.5M1212.5 627.3V637.4M1213.5 623.3V627.3M1214.5 601.2V623.3M1216.5 594.4V601.2M1217.5 584V594.4M1218.5 581.8V584M1219.5 568.7V581.8M1221.5 555.6V568.7M1222.5 549.5V555.6M1223.5 539.7V549.5M1225.5 517.1V539.7M1226.5 510.8V517.1M1227.5 503.2V510.8M1229.5 494.9V503.2M1235.5 536.9V549M1236.5 525.8V536.9M1238.5 521.5V525.8M1240.5 520.4V523.5M1243.5 511.8V529.6M1244.5 507.5V511.8M1246.5 486.2V507.5M1248.5 481.2V498.1M1249.5 468.6V481.2M1252.5 470.8V474.9M1253.5 467.3V470.8M1255.5 441.5V467.3M1262.5 484.8V492.8M1264.5 460.6V484.8M1265.5 444.4V460.6M1268.5 429.6V458.1M1270.5 440V451.6M1272.5 419.9V440M1274.5 411.9V438.7M1276.5 403.9V411.9M1277.5 387.4V403.9M1278.5 383.2V387.4M1279.5 382.3V383.3M1281.5 381.4V382.4M1289.5 471.1V475.7M1295.5 570.4V583.2M1296.5 561.3V570.4M1298.5 547.6V561.3M1302.5 543.9V551.2M1304.5 523.8V545.1M1305.5 500.2V523.8M1307.5 490.5V500.2M1308.5 479V490.5M1309.5 467.2V479M1311.5 449.3V467.2M1312.5 437.7V449.3M1313.5 435.5V437.7M1315.5 410.4V435.5M1317.5 420.6V433.3M1319.5 411.1V420.6M1320.5 388.6V411.1M1322.5 356V389.1M1324.5 352.5V356M1325.5 348V352.5M1326.5 332.8V348M1329.5 317V335.9M1330.5 305.4V317M1333.5 281.1V306M1334.5 259.9V281.1M1335.5 235.5V259.9M1338.5 238.7V248.7M1341.5 229.8V239.6M1343.5 229.7V230.7M1350.5 244.7V255.4M1356.5 285.9V296.4M1358.5 270.9V285.9M1359.5 252.4V270.9M1360.5 247V252.4M1363.5 250.4V258.5M1364.5 234.2V250.4M1367.5 246.3V254.9M1369.5 247.1V250.2M1371.5 244.9V247.1M1372.5 238.7V244.9M1373.5 211.9V238.7M1375.5 198.8V211.9M1376.5 182V198.8M1377.5 181.4V182.4M1378.5 165.4V181.4M1381.5 185V192.6M1386.5 208.7V217.5M1392.5 228.6V229.6M1395.5 237.7V250.1M1397.5 219.3V237.7M1398.5 206.5V219.3M1401.5 216V218.1M1402.5 214.7V216M1405.5 213.7V223.3M1411.5 244.2V253.5M1418.5 244.7V261.4M1419.5 239.2V244.7M1422.5 245.7V246.7M1423.5 231.2V245.7M1425.5 241.7V247.8M1428.5 255.8V257.3M1429.5 250.9V255.8M1432.5 252.8V254.9M1433.5 247.6V252.8M1435.5 234.7V247.6M1437.5 253.2V263.2M1440.5 266.2V279.1M1441.5 256V266.2M1442.5 240.4V256M1444.5 238.6V240.4M1445.5 236.7V238.6M1446.5 233.1V236.7M1448.5 232.8V233.8M1450.5 227.3V235.7M1451.5 224.3V227.3M1455.5 227.2V231.9M1458.5 208.6V227.3M1461.5 191.7V214.1M1462.5 186.2V191.7M1463.5 175.5V186.2M1465.5 168.4V175.5M1466.5 164V168.4M1472.5 197.4V200.1M1475.5 200V205.5M1476.5 194.5V200M1478.5 194.5V195.5M1479.5 183.3V194.5M1481.5 183.7V185.5M1483.5 170.6V183.7M1488.5 193.5V201.9M1491.5 184.8V201.7M1493.5 175.1V187.8M1495.5 174.2V175.2M1496.5 165.2V174.2M1504.5 184.8V191M1505.5 180.8V184.8M1506.5 177.6V180.8M1509.5 179.9V185.8M1510.5 178.3V179.9M1511.5 174.1V178.3M1513.5 160.3V174.1M1514.5 144.4V160.3M1517.5 137.9V146.1M1518.5 134.6V137.9M1521.5 127.3V139.2M1523.5 127.4V128.4M1526.5 129.3V131.3M1531.5 138.1V143.1M1532.5 133.8V138.1M1547.5 225.6V230.9M1548.5 209.1V225.6M1549.5 205.5V209.1M1552.5 196.7V206.7M1553.5 190.8V196.7M1556.5 185.7V193.3M1557.5 183.2V185.7M1558.5 179.5V183.2M1560.5 166.1V179.5M1561.5 165.5V166.5M1573.5 199.5V208.5M1574.5 195.7V199.5M1575.5 188.6V195.7M1578.5 191.8V192.8M1581.5 185.1V193.8M1582.5 180.2V185.1M1583.5 173.8V180.2M1592.5 207V208M1594.5 203.6V207M1597.5 203.1V209.3M1600.5 204.3V209.4M1601.5 202.1V204.3M1604.5 199.8V204.4M1605.5 199.8V200.8M1611.5 212.3V216M1613.5 210.8V213.8M1617.5 210.3V213M1618.5 205V210.3M1620.5 198.7V205M1621.5 195.7V198.7M1622.5 194.3V195.7M1624.5 193.1V194.3M1626.5 189.8V193.2M1627.5 185.2V189.8M1629.5 182.9V185.2M1630.5 180.8V182.9M1631.5 177.5V180.8M1637.5 183.9V189.9M1639.5 187V191.4M1643.5 191.9V192.9M1647.5 197.9V199.1M1648.5 193V197.9M1652.5 197.1V200.3M1654.5 192.4V197.1M1655.5 185.6V192.4M1659.5 188.5V191M1660.5 184.4V188.5M1663.5 182.8V185.9M1670.5 212.3V216.6M1672.5 208.5V212.3M1676.5 213.3V214.6M1677.5 213.1V214.1M1678.5 209.1V213.1M1681.5 210.6V212M1685.5 211.5V213.4M1686.5 209.1V211.5M1689.5 208.9V209.9M1691.5 206.5V209.8M1693.5 204.6V206.5M1694.5 203.7V204.7M1695.5 200.6V203.7M1697.5 197.8V200.6M1699.5 199.5V200.7M1700.5 199.5V200.5M1702.5 198.5V199.5M1703.5 193.9V198.5M1704.5 186.6V193.9M1706.5 184.2V186.6M1707.5 181V184.2M1708.5 178.8V181M1710.5 176.9V178.8M1711.5 173.7V176.9M1713.5 173.4V175.6M1715.5 173.2V174.2M1719.5 177.7V178.7M1721.5 181.6V182.8M1723.5 178.5V181.6M1725.5 173.6V179.5M1728.5 175.8V176.8M1730.5 177.2V180.6M1734.5 176V179.5M1737.5 176.3V177.7M1740.5 174.9V176.3M1741.5 167.1V174.9M1743.5 169.2V170.9M1746.5 171V173.5M1747.5 166.6V171M1754.5 182.5V183.5M1755.5 178.8V182.5M1757.5 177.3V178.8M1759.5 177.5V179.7M1762.5 174.8V179.1M1763.5 174.1V175.1M1764.5 169V174.1M1766.5 168.5V169.5M1767.5 164.9V168.5M1768.5 162.1V164.9M1770.5 161.1V162.1M1773.5 166.7V169.1M1776.5 169.2V170.8M1786.5 195.2V196.2M1789.5 193V195.2M1790.5 188V193M1793.5 185.4V188.6M1794.5 184.8V185.8M1796.5 183.8V184.8M1797.5 182.5V183.8M1800.5 182.3V183.3M1802.5 181.3V183.3M1803.5 180.8V181.8M1805.5 178.5V180.8M1806.5 177V178.5M1815.5 222.1V228.2M1818.5 215.8V224.1M1824.5 222.8V225.3M1826.5 215.4V222.8M1827.5 207.2V215.4M1828.5 198.6V207.2M1831.5 196.7V199.7M1832.5 196.2V197.2M1835.5 190.1V197.4M1836.5 180.9V190.1M1837.5 176.9V180.9M1840.5 172.2V177.7M1848.5 197.2V198.2M1849.5 196.2V197.2M1850.5 195.9V196.9M1852.5 194.2V195.9M1854.5 195.4V199" stroke="#089981" stroke-width="1" fill="none"/>
<path d="M3.5 752V753M5.5 752.2V753.8M6.5 753.8V758M7.5 758V759M10.5 756.5V762M19.5 747.9V748.9M20.5 748.3V752.3M23.5 751.9V754.5M25.5 753V754.1M27.5 754.1V756.6M28.5 756.6V758.2M29.5 758.2V760.9M32.5 756.4V759.4M36.5 750.8V751.8M37.5 751.4V755.9M38.5 755.9V758.5M40.5 758.5V762.3M45.5 726.1V727.1M46.5 726.5V728.1M50.5 727.1V728.1M52.5 727.3V729.1M53.5 729.1V730.6M55.5 730.1V731.6M67.5 710.3V711.7M75.5 706.7V708.5M79.5 699.4V704.5M80.5 704.5V705.5M84.5 702.2V703.2M89.5 688.7V689.7M91.5 689.5V693.7M93.5 693.4V697.3M95.5 697.3V700.3M96.5 700.3V705.8M100.5 700.6V702.8M102.5 702.2V706.2M104.5 706.2V707.2M105.5 706.2V710.7M106.5 710.7V714.9M108.5 714.9V715.9M109.5 715V719.2M111.5 714.4V720.9M125.5 701.4V702.8M130.5 694.9V695.9M134.5 692V694.5M136.5 694.2V697.9M138.5 697.9V699.4M139.5 699.4V700.4M141.5 699.6V700.6M143.5 700.5V701.5M153.5 677.4V678.4M155.5 677.7V678.7M157.5 669.8V675.9M161.5 668.5V678.5M162.5 678.5V691.7M164.5 691.7V706.7M165.5 706.7V715.9M166.5 715.9V734.4M168.5 734.4V748.9M169.5 748.9V765.5M170.5 765.5V775.4M171.5 775.4V781.1M173.5 781.1V782.2M174.5 782.2V790.3M184.5 748.4V751.4M186.5 751.4V753.8M187.5 753.8V758.3M188.5 758.3V763.8M190.5 763.8V766.8M191.5 766.8V771.8M196.5 750.8V761.4M198.5 761.4V771.7M199.5 771.7V790.7M201.5 786.7V793.1M203.5 793.1V800.2M204.5 800.2V807.3M205.5 807.3V810.5M207.5 810.5V815.1M212.5 796.1V797.9M214.5 794.1V800.9M217.5 795.6V803.9M220.5 800.9V804.1M222.5 795.9V801.7M225.5 794.5V795.7M226.5 795.7V800.5M228.5 800.5V808.9M231.5 794.6V799.9M235.5 779.9V780.9M241.5 769.1V774M242.5 774V785.4M243.5 785.4V798.7M246.5 797.1V808.9M247.5 808.9V812.3M252.5 790.2V793.1M255.5 775.6V781.1M256.5 781.1V786.6M259.5 786.2V796.7M260.5 796.7V798.9M261.5 798.9V804.4M264.5 802.4V806.8M265.5 806.8V809.9M271.5 793V801.9M272.5 801.9V804.4M273.5 804.4V811.8M277.5 808V809.3M278.5 809.3V810.3M280.5 809.7V811.2M282.5 801.4V802.4M284.5 802.4V808.2M285.5 808.2V823.3M286.5 823.3V830M287.5 830V834M289.5 834V846M290.5 846V848.2M291.5 848.2V852.8M294.5 848.4V850.7M297.5 849.6V851.3M298.5 851.3V854.8M299.5 854.8V861.4M300.5 861.4V864M302.5 864V865M304.5 863.5V864.7M307.5 862.6V867.5M311.5 859.5V864.5M315.5 856.8V857.8M317.5 853.6V861M319.5 861V862M320.5 861.3V863.6M321.5 863.6V864.6M323.5 864.1V868.1M324.5 868.1V873M325.5 873V874.8M327.5 874.8V881.4M328.5 881.4V894.4M329.5 894.4V904.5M330.5 904.5V917.2M333.5 916.9V918.9M336.5 915.8V918.3M337.5 918.3V919.3M338.5 918.4V919.4M340.5 918.6V920.5M341.5 920.5V922.7M342.5 922.7V924.8M344.5 924.8V927.9M345.5 927.9V930.4M346.5 930.4V934.7M349.5 932.7V935.9M353.5 925.7V926.7M358.5 919.6V921.3M362.5 910.5V911.5M368.5 896.7V897.9M375.5 882.7V883.7M376.5 883.3V888.6M379.5 888V890.4M380.5 890.4V892.5M388.5 862.6V865.3M389.5 865.3V873.1M390.5 873.1V882.1M392.5 882.1V885.1M393.5 885.1V887.2M394.5 887.2V888.2M396.5 888.2V892.5M398.5 892V893.4M401.5 890.7V894.3M405.5 885.9V886.9M406.5 886V887.4M410.5 879.4V887.7M419.5 856V857.6M420.5 857.6V858.6M424.5 853.2V855.2M427.5 855.2V856.9M432.5 848.2V849.2M435.5 847V848M436.5 847.5V849.5M437.5 849.5V854.1M439.5 854.1V862M441.5 857.9V858.9M443.5 858.2V863.8M444.5 863.8V867.5M446.5 866.4V871.4M448.5 871.4V874.4M449.5 874.4V876.3M453.5 865.5V866.5M454.5 865.5V866.5M456.5 865.9V869.7M457.5 869.7V881.3M460.5 881.2V890.8M461.5 890.8V896.6M466.5 885.8V886.8M469.5 882.7V884.5M470.5 884.5V885.5M471.5 885.2V886.2M473.5 886.1V887.1M475.5 885.4V888.3M478.5 885.8V886.8M482.5 884.8V886.1M483.5 886.1V889M484.5 889V890.9M493.5 842.2V843.2M496.5 838.4V841.8M497.5 841.8V843.4M501.5 841.2V842.2M503.5 842V843M505.5 839.2V842.1M506.5 842.1V843.1M508.5 842.9V844M509.5 844V846.1M510.5 846.1V847.1M512.5 846.8V853.3M513.5 853.3V858.8M514.5 858.8V862.8M516.5 862.8V869.6M517.5 869.6V876.5M518.5 876.5V883.5M519.5 883.5V894.8M521.5 894.8V902.4M525.5 896.2V902.3M530.5 892.3V893.6M533.5 889.7V890.7M535.5 890V892.2M536.5 892.2V893.2M538.5 892.2V895.6M539.5 895.6V900.7M546.5 889.1V890.1M547.5 889.4V890.9M549.5 890.8V892.1M551.5 892.1V900.1M553.5 896.8V897.8M555.5 897.6V898.6M556.5 897.9V898.9M557.5 898V900.2M559.5 900.2V905.5M560.5 905.5V908.6M561.5 908.6V912.1M563.5 912.1V916.9M566.5 911.6V912.6M570.5 904.9V906.9M572.5 906.9V908.3M573.5 908.3V912M574.5 912V915.9M577.5 915V917M590.5 856.6V863.1M591.5 863.1V872.6M592.5 872.6V877.8M594.5 877.8V883.1M595.5 883.1V884.1M596.5 883.7V892.1M599.5 889.1V898.9M600.5 898.9V903.1M602.5 903.1V904.2M604.5 902V905M606.5 905V911.9M607.5 911.9V917.5M608.5 917.5V919.4M609.5 919.4V925.1M612.5 924.3V931.5M613.5 931.5V932.5M615.5 931.9V932.9M619.5 925.4V927.9M620.5 927.9V928.9M622.5 924.4V925.4M624.5 925V926M626.5 925V926.3M635.5 899.6V904.5M637.5 904.5V917.2M638.5 917.2V931M639.5 931V933.2M641.5 933.2V936.5M643.5 933.8V935M645.5 935V939.1M646.5 939.1V947.3M647.5 947.3V949.8M649.5 949.8V953.6M655.5 947.2V952.2M658.5 950.9V952.4M659.5 952.4V959.3M663.5 951.1V952.1M664.5 951.6V952.6M665.5 952.4V954.3M667.5 954.3V958.5M668.5 958.5V961.8M676.5 935.2V936.2M679.5 933.6V939.5M681.5 938.3V942.4M682.5 942.4V944.5M684.5 944.5V949.7M686.5 948.8V955.2M692.5 940.1V941.1M694.5 934.9V943M695.5 943V946.7M697.5 946.7V956.2M698.5 956.2V960.7M699.5 960.7V968.8M701.5 968.8V973.7M702.5 973.7V974.7M703.5 973.7V974.7M705.5 974.7V981.6M714.5 952.1V955.1M715.5 955.1V958.2M716.5 958.2V968.5M718.5 968.5V972.6M719.5 972.6V974.5M720.5 974.5V980.5M723.5 978.5V979.8M724.5 979.8V984.6M727.5 979.3V980.3M733.5 971.8V977.3M736.5 976V977.5M737.5 977.5V983.7M738.5 983.7V988M740.5 988V990.6M742.5 990.5V991.5M749.5 978.3V980M750.5 980V981.5M752.5 981.5V982.5M753.5 981.7V983M754.5 983V985M757.5 981.1V984M759.5 973.7V975.5M761.5 975.5V976.5M762.5 976V978.9M763.5 978.9V982.6M766.5 981.5V989.3M768.5 988.2V993.5M771.5 988.1V990.1M772.5 990.1V998.4M775.5 995.6V1000.5M778.5 999.7V1001.4M779.5 1001.4V1009.2M780.5 1009.2V1012.1M781.5 1012.1V1013.1M783.5 1012.3V1015M784.5 1015V1016.3M791.5 988.1V989.1M793.5 976.7V977.7M797.5 974.2V981M798.5 981V987M800.5 987V992.8M801.5 992.8V993.8M808.5 973V975.2M809.5 975.2V976.4M810.5 976.4V980.4M811.5 980.4V988.4M813.5 988.4V991.2M814.5 991.2V995M821.5 963.7V965.7M823.5 964.6V965.6M825.5 964.9V965.9M826.5 965.9V966.9M827.5 966.4V967.4M832.5 963.3V969.6M834.5 969.6V971M843.5 943.8V947.1M844.5 947.1V950.5M845.5 950.5V953M853.5 926V927.1M856.5 925.4V926.4M857.5 925.9V926.9M858.5 926.7V930.6M860.5 930.6V933.7M861.5 933.7V934.8M864.5 931.2V939.2M875.5 908.5V909.6M877.5 909.6V910.8M878.5 910.8V914M879.5 914V922.3M881.5 922.3V930.9M882.5 930.9V932.2M891.5 909.8V912.6M892.5 912.6V915.9M894.5 915.9V917M895.5 917V918.8M896.5 918.8V923.6M899.5 922.8V923.8M900.5 922.9V927M901.5 927V929.6M903.5 929.6V933.1M904.5 933.1V937.3M905.5 937.3V944.4M914.5 916.3V920.3M916.5 920.3V921.4M917.5 921.4V927.6M918.5 927.6V929.2M920.5 929.2V937.8M921.5 937.8V941.2M922.5 941.2V950M924.5 950V960.8M925.5 960.8V968.5M927.5 967.6V970.7M929.5 970.7V973.3M930.5 973.3V979.2M931.5 979.2V983.6M933.5 983.6V990M934.5 990V998.3M935.5 998.3V1005.3M938.5 1004.1V1005.9M939.5 1005.9V1006.9M942.5 1005.9V1008.7M944.5 1003.1V1011M946.5 1011V1012.8M947.5 1012.8V1013.8M948.5 1013.5V1015.3M951.5 1005.8V1006.8M963.5 985V986M964.5 985.6V987.4M965.5 987.4V997.5M967.5 997.5V1001.7M968.5 1001.7V1009.2M970.5 1004.7V1005.7M973.5 1003.9V1004.9M976.5 1002.6V1004.5M980.5 1002.3V1003.9M985.5 998.9V999.9M993.5 989.4V992.6M994.5 992.6V993.6M995.5 992.7V999.1M998.5 996.3V997.3M999.5 996.7V997.7M1000.5 997.7V998.7M1003.5 996.2V998.7M1006.5 994.6V995.6M1015.5 975.6V976.6M1016.5 976V979.9M1017.5 979.9V982.4M1019.5 982.4V987.3M1020.5 987.3V989.4M1021.5 989.4V990.4M1028.5 982.7V983.7M1029.5 983.6V985.2M1030.5 985.2V986.2M1032.5 986.1V987.1M1033.5 986.1V987.3M1034.5 987.3V988.6M1041.5 979.9V982.4M1042.5 982.4V985.4M1043.5 985.4V988.8M1045.5 988.8V993.7M1046.5 993.7V995.7M1047.5 995.7V998.5M1050.5 996.8V998.8M1054.5 997.8V998.8M1055.5 998.8V1000.2M1057.5 1000.2V1002.1M1058.5 1002.1V1003.6M1062.5 1001.5V1003.4M1063.5 1003.4V1004.4M1064.5 1003.6V1005.5M1066.5 1005.5V1007.3M1076.5 976.6V978.1M1077.5 978.1V981.2M1080.5 978.6V981.4M1081.5 981.4V982.4M1087.5 979.2V981.4M1088.5 981.4V990.5M1089.5 990.5V996.7M1090.5 996.7V998.8M1094.5 993.8V996.3M1096.5 996.3V997.3M1098.5 995V997.5M1100.5 997.5V998.5M1109.5 972.7V973.9M1111.5 968.8V971.1M1114.5 970.5V975.5M1118.5 972.7V973.7M1128.5 942.3V943.3M1140.5 909.1V912.2M1148.5 873.5V875M1149.5 875V885.8M1153.5 877.6V884.6M1160.5 848.6V850.4M1170.5 747.9V749.7M1176.5 714.5V718.6M1178.5 718.6V719.7M1179.5 719.7V742.2M1180.5 742.2V754.9M1182.5 754.9V757M1184.5 746.6V747.6M1188.5 726.5V727.5M1195.5 664.7V669M1196.5 669V690M1197.5 690V695.1M1201.5 684.4V718.1M1210.5 634.1V637.4M1230.5 494.9V507.7M1231.5 507.7V522M1232.5 522V526.5M1234.5 526.5V549M1239.5 521.5V523.5M1242.5 520.4V529.6M1247.5 486.2V498.1M1251.5 468.6V474.9M1256.5 441.5V445.4M1257.5 445.4V453.7M1259.5 453.7V467.1M1260.5 467.1V468.7M1261.5 468.7V492.8M1266.5 444.4V458.1M1269.5 429.6V451.6M1273.5 419.9V438.7M1282.5 381.4V384.9M1283.5 384.9V418M1285.5 418V432.9M1286.5 432.9V454.1M1287.5 454.1V475.7M1290.5 471.1V498.2M1291.5 498.2V531.5M1292.5 531.5V560.1M1294.5 560.1V583.2M1299.5 547.6V549.5M1300.5 549.5V551.2M1303.5 543.9V545.1M1316.5 410.4V433.3M1321.5 388.6V389.6M1328.5 332.8V335.9M1332.5 305.4V306.4M1337.5 235.5V248.7M1339.5 238.7V239.7M1342.5 229.8V230.8M1345.5 229.7V231.9M1346.5 231.9V243.3M1347.5 243.3V250.1M1349.5 250.1V255.4M1351.5 244.7V253M1352.5 253V258.5M1354.5 258.5V295.2M1355.5 295.2V296.4M1362.5 247V258.5M1365.5 234.2V254.9M1368.5 246.3V250.2M1380.5 165.4V192.6M1382.5 185V194.3M1384.5 194.3V197.6M1385.5 197.6V217.5M1388.5 208.7V210M1389.5 210V223.5M1390.5 223.5V229M1393.5 228.6V235.4M1394.5 235.4V250.1M1399.5 206.5V218.1M1403.5 214.7V223.3M1406.5 213.7V228.9M1407.5 228.9V231.6M1408.5 231.6V246M1410.5 246V253.5M1412.5 244.2V247.8M1414.5 247.8V248.8M1415.5 248.8V254.3M1416.5 254.3V261.4M1420.5 239.2V246.1M1424.5 231.2V247.8M1427.5 241.7V257.3M1431.5 250.9V254.9M1436.5 234.7V263.2M1438.5 253.2V279.1M1449.5 232.8V235.7M1453.5 224.3V231.6M1454.5 231.6V232.6M1457.5 227.2V228.2M1459.5 208.6V214.1M1467.5 164V166.3M1468.5 166.3V175.6M1470.5 175.6V181.8M1471.5 181.8V200.1M1474.5 197.4V205.5M1480.5 183.3V185.5M1484.5 170.6V171.6M1485.5 170.7V182.4M1487.5 182.4V201.9M1489.5 193.5V201.7M1492.5 184.8V187.8M1497.5 165.2V167.3M1498.5 167.3V171.7M1500.5 171.7V174.3M1501.5 174.3V188M1502.5 188V191M1508.5 177.6V185.8M1515.5 144.4V146.1M1519.5 134.6V139.2M1522.5 127.3V128.3M1524.5 127.4V131.3M1527.5 129.3V140.4M1528.5 140.4V141.4M1530.5 140.5V143.1M1534.5 133.8V134.8M1535.5 134.3V142.4M1536.5 142.4V145.3M1538.5 145.3V165.7M1539.5 165.7V168.4M1540.5 168.4V181M1541.5 181V194.3M1543.5 194.3V206M1544.5 206V218.2M1545.5 218.2V230.9M1551.5 205.5V206.7M1554.5 190.8V193.3M1562.5 165.5V172.2M1564.5 172.2V178.5M1565.5 178.5V188.4M1566.5 188.4V203.2M1567.5 203.2V205.6M1569.5 205.6V206.6M1570.5 205.7V206.7M1571.5 206.5V208.5M1577.5 188.6V192.7M1579.5 191.8V193.8M1584.5 173.8V174.8M1586.5 174.3V179.6M1587.5 179.6V187.2M1588.5 187.2V199M1590.5 199V205.3M1591.5 205.3V207.5M1595.5 203.6V206.7M1596.5 206.7V209.3M1599.5 203.1V209.4M1603.5 202.1V204.4M1607.5 199.8V202.6M1608.5 202.6V212.3M1609.5 212.3V216M1612.5 212.3V213.8M1614.5 210.8V212M1616.5 212V213M1625.5 193.1V194.1M1633.5 177.5V180.6M1634.5 180.6V183.7M1635.5 183.7V189.9M1638.5 183.9V191.4M1640.5 187V192.4M1642.5 192.4V193.4M1644.5 191.9V194M1646.5 194V199.1M1650.5 193V197.4M1651.5 197.4V200.3M1656.5 185.6V188.2M1657.5 188.2V191M1661.5 184.4V185.9M1664.5 182.8V190M1665.5 190V193.9M1667.5 193.9V205.1M1668.5 205.1V215.7M1669.5 215.7V216.7M1673.5 208.5V213.4M1674.5 213.4V214.6M1680.5 209.1V212M1682.5 210.6V211.6M1684.5 211.2V213.4M1687.5 209.1V210.1M1690.5 208.9V209.9M1698.5 197.8V200.7M1712.5 173.7V175.6M1716.5 173.2V174.5M1717.5 174.5V178.3M1720.5 177.7V182.8M1724.5 178.5V179.5M1727.5 173.6V175.8M1729.5 175.8V180.6M1732.5 177.2V178.2M1733.5 177.2V179.5M1736.5 176V177.7M1738.5 176.3V177.3M1742.5 167.1V170.9M1745.5 169.2V173.5M1749.5 166.6V171.7M1750.5 171.7V176.7M1751.5 176.7V179.2M1753.5 179.2V182.7M1758.5 177.3V179.7M1760.5 177.5V179.1M1771.5 161.1V163.1M1772.5 163.1V169.1M1775.5 166.7V170.8M1777.5 169.2V172.7M1779.5 172.7V175M1780.5 175V184.9M1781.5 184.9V186.3M1783.5 186.3V187.6M1784.5 187.6V192.9M1785.5 192.9V195.7M1788.5 195.2V196.2M1792.5 188V189M1798.5 182.5V183.5M1801.5 182.3V183.3M1807.5 177V186.9M1809.5 186.9V196.6M1810.5 196.6V211.4M1811.5 211.4V217M1813.5 217V220.8M1814.5 220.8V228.2M1816.5 222.1V224.1M1819.5 215.8V220.8M1820.5 220.8V222.8M1822.5 222.8V224M1823.5 224V225.3M1830.5 198.6V199.7M1833.5 196.2V197.4M1839.5 176.9V177.9M1841.5 172.2V183.4M1843.5 183.4V187M1844.5 187V189.7M1845.5 189.7V195M1846.5 195V197.4M1853.5 194.2V199" stroke="#f23645" stroke-width="1" fill="none"/>
</g>
<path d="M3 293.5H1856" stroke="#089981" stroke-width="1" stroke-dasharray="1 2" fill="none"/>
</svg>
<div class="pl" style="top:25.1px">3,452.00</div><div class="pl" style="top:94.9px">3,448.00</div><div class="pl" style="top:164.7px">3,444.00</div><div class="pl" style="top:234.5px">3,440.00</div><div class="pl" style="top:374.1px">3,432.00</div><div class="pl" style="top:443.9px">3,428.00</div><div class="pl" style="top:513.7px">3,424.00</div><div class="pl" style="top:583.4px">3,420.00</div><div class="pl" style="top:653.2px">3,416.00</div><div class="pl" style="top:723.0px">3,412.00</div><div class="pl" style="top:792.8px">3,408.00</div><div class="pl" style="top:862.6px">3,404.00</div><div class="pl" style="top:932.4px">3,400.00</div><div class="pl" style="top:1002.2px">3,396.00</div><div class="pl" style="top:1072.0px">3,392.00</div>
<div id="tclip"><div class="tl" style="left:1.0px">06:00</div><div class="tl" style="left:79.2px">07:00</div><div class="tl" style="left:157.4px">08:00</div><div class="tl" style="left:235.6px">09:00</div><div class="tl" style="left:313.8px">10:00</div><div class="tl" style="left:392.0px">11:00</div><div class="tl" style="left:470.3px">12:00</div><div class="tl" style="left:548.5px">13:00</div><div class="tl" style="left:626.7px">14:00</div><div class="tl" style="left:704.9px">15:00</div><div class="tl" style="left:783.1px">16:00</div><div class="tl" style="left:861.3px">17:00</div><div class="tl" style="left:939.5px">18:00</div><div class="tl" style="left:1017.7px">19:00</div><div class="tl" style="left:1095.9px">20:00</div><div class="tl" style="left:1174.1px">21:00</div><div class="tl" style="left:1252.4px">22:00</div><div class="tl" style="left:1330.6px">23:00</div><div class="tl" style="left:1408.8px"><span style="-webkit-text-stroke:0.5px #131722">23</span></div><div class="tl" style="left:1487.0px">01:00</div><div class="tl" style="left:1565.2px">02:00</div><div class="tl" style="left:1643.4px">03:00</div><div class="tl" style="left:1721.6px">04:00</div><div class="tl" style="left:1799.8px">06:00</div></div>

<!-- price labels -->
<div class="abs" style="left:1857px;top:184.5px;width:90px;height:26px;box-sizing:border-box;border:1px solid #089981;border-radius:3px;background:#fff;color:#089981;font-size:16.6px;line-height:23px;letter-spacing:0.7px;text-align:left;padding-left:12.5px;">3,442.80</div>
<div class="abs" style="left:1857px;top:280px;width:90px;height:48px;box-sizing:border-box;border-radius:3px;background:#089981;color:#fff;font-size:16.6px;line-height:21px;letter-spacing:0.7px;padding:2.5px 0 0 13.5px;">3,437.30<br><span style="opacity:.78">00:31</span></div>
<!-- vol label -->
<div class="abs" style="left:1857.5px;top:1098px;width:30px;height:30px;box-sizing:border-box;border:1px solid #26a69a;border-radius:3px;background:#fff;color:#26a69a;font-size:17px;line-height:25px;text-align:center;padding-left:4px;clip-path:inset(0 0 5px 0);">2</div>

<!-- legend -->
<svg class="abs" style="left:16px;top:14px" width="27" height="27" viewBox="0 0 27 27"><circle cx="13.5" cy="13.5" r="13.5" fill="#d69a00"/><path d="M11.2 7.3h4.6l2.4 5h-9.4zM5.6 13.6h4.6l2.4 4.9H3.2zM16.8 13.6h4.6l2.4 4.9h-9.4z" fill="#fff8d8"/></svg>
<div class="abs" id="title" style="left:48.5px;top:13.5px;font-size:24.2px;line-height:28px;transform:scaleX(0.912);transform-origin:0 0;">Gold Futures <b>·</b> 1 <b>·</b> COMEX</div>
<div class="abs" style="left:331px;top:14.2px;width:59.5px;height:26.8px;border-radius:13.4px;overflow:hidden;background:#d9f0ec;">
  <div style="position:absolute;left:30px;top:0;width:30px;height:27px;background:#ffe0b2;"></div>
  <div style="position:absolute;left:10.5px;top:6.75px;width:13px;height:13px;border-radius:50%;background:#089981;"></div>
  <div style="position:absolute;left:30px;top:0;width:27px;text-align:center;font-weight:bold;color:#f57c00;font-size:18.6px;line-height:26.8px;transform:scaleX(0.93);">D</div>
</div>
<div class="abs" id="ohlc" style="left:415px;top:15px;font-size:18.2px;line-height:25px;letter-spacing:0.45px;color:#089981;"><span class="k">O</span>3,436.80<span class="g"></span><span class="k">H</span>3,437.30<span class="g"></span><span class="k">L</span>3,436.70<span class="g"></span><span class="k">C</span>3,437.30<span class="g"></span><span style="letter-spacing:0.22px">+0.60 (+0.02%)</span></div>
<style>#ohlc .k{color:#131722;margin-right:1px}#ohlc .g{display:inline-block;width:9.5px}</style>

<!-- sell/buy -->
<div class="abs" style="left:15px;top:51px;width:98px;height:51px;box-sizing:border-box;border:1px solid #e0435a;border-radius:8px;color:#ee3a4b;text-align:center;">
  <div style="font-weight:bold;font-size:17.2px;line-height:20px;margin-top:5px;letter-spacing:0.55px;">3,437.1</div>
  <div style="font-size:15.6px;line-height:20px;letter-spacing:-0.3px;margin-top:1.5px;">SELL</div>
</div>
<div class="abs" style="left:124.3px;top:65.7px;font-size:14.8px;line-height:20px;letter-spacing:0.3px;">0.2</div>
<div class="abs" style="left:158px;top:51px;width:98px;height:51px;box-sizing:border-box;border:1px solid #3d68e8;border-radius:8px;color:#2f62f5;text-align:center;">
  <div style="font-weight:bold;font-size:17.2px;line-height:20px;margin-top:5px;letter-spacing:0.55px;">3,437.3</div>
  <div style="font-size:15.6px;line-height:20px;letter-spacing:-0.1px;margin-top:1.5px;">BUY</div>
</div>
<div class="abs" style="left:16.5px;top:113px;font-size:18.5px;line-height:25px;">Vol</div>
<div class="abs" style="left:55px;top:113px;font-size:18.5px;line-height:25px;color:#26a69a;">10</div>
<div class="abs" style="left:13px;top:149px;width:42px;height:29px;box-sizing:border-box;border:1px solid #e2e3e7;border-radius:4px;background:#fff;"></div>
<svg class="abs" style="left:23px;top:154px" width="20" height="20" viewBox="0 0 20 20"><path d="M4.6 12.8L10.2 7.6L15.8 12.8" fill="none" stroke="#131722" stroke-width="1.8"/></svg>

<!-- TradingView logo -->
<svg class="abs" style="left:21px;top:1075.3px" width="45" height="35" viewBox="0 0 36 28"><path d="M14 22H7V11H0V4h14v18zM28 22h-8l7.5-18h8L28 22z" fill="#131722"/><circle cx="20" cy="8" r="4" fill="#131722"/></svg>
<div class="abs" id="tvtext" style="left:76.5px;top:1075px;font-weight:bold;font-size:31px;line-height:36px;letter-spacing:-0.05px;color:#131722;">TradingView</div>

<!-- settings icon -->
<svg class="abs" style="left:1892px;top:1132px" width="28" height="28" viewBox="0 0 28 28"><path d="M3.9 13.6L9 4.8h10.4l5.1 8.8l-5.1 8.8H9z" fill="none" stroke="#131722" stroke-width="1.5" stroke-linejoin="miter"/><circle cx="14.3" cy="13.6" r="3" fill="none" stroke="#131722" stroke-width="1.5"/></svg>
</body></html>
